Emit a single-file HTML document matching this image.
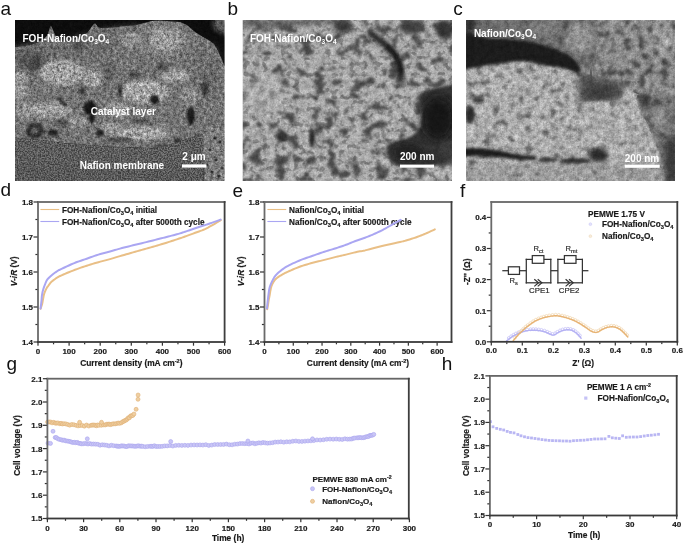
<!DOCTYPE html>
<html><head><meta charset="utf-8"><title>Figure</title>
<style>html,body{margin:0;padding:0;background:#fff;} body{width:685px;height:545px;overflow:hidden;position:relative;font-family:"Liberation Sans", sans-serif;}</style>
</head><body>
<svg width="685" height="545" viewBox="0 0 685 545" style="position:absolute;left:0;top:0;font-family:'Liberation Sans', sans-serif">
<rect width="685" height="545" fill="#fff"/>
<defs>
<filter id="b0_6" x="-50%" y="-50%" width="200%" height="200%"><feGaussianBlur stdDeviation="0.6"/></filter>
<filter id="b1" x="-50%" y="-50%" width="200%" height="200%"><feGaussianBlur stdDeviation="1"/></filter>
<filter id="b1_5" x="-50%" y="-50%" width="200%" height="200%"><feGaussianBlur stdDeviation="1.5"/></filter>
<filter id="b2" x="-50%" y="-50%" width="200%" height="200%"><feGaussianBlur stdDeviation="2"/></filter>
<filter id="b3" x="-50%" y="-50%" width="200%" height="200%"><feGaussianBlur stdDeviation="3"/></filter>
<filter id="b4" x="-50%" y="-50%" width="200%" height="200%"><feGaussianBlur stdDeviation="4"/></filter>
<filter id="b6" x="-50%" y="-50%" width="200%" height="200%"><feGaussianBlur stdDeviation="6"/></filter>
<filter id="texA" x="15" y="20" width="210" height="161" filterUnits="userSpaceOnUse" color-interpolation-filters="sRGB">
<feTurbulence type="fractalNoise" baseFrequency="0.3" numOctaves="3" seed="3" result="n1"/>
<feTurbulence type="fractalNoise" baseFrequency="0.7" numOctaves="2" seed="10" result="n2"/>
<feComposite in="n1" in2="n2" operator="arithmetic" k2="0.6" k3="0.4" result="n"/>
<feColorMatrix in="n" type="matrix" values="2.0 0 0 0 -0.5 2.0 0 0 0 -0.5 2.0 0 0 0 -0.5 0 0 0 0 1" result="g"/>
<feComposite in="SourceGraphic" in2="g" operator="arithmetic" k1="0.85" k2="0.575" k3="0" k4="0"/></filter>
<filter id="texM" x="15" y="120" width="210" height="62" filterUnits="userSpaceOnUse" color-interpolation-filters="sRGB">
<feTurbulence type="fractalNoise" baseFrequency="0.7" numOctaves="2" seed="13" result="n1"/>
<feColorMatrix in="n1" type="matrix" values="2.5 0 0 0 -0.75 2.5 0 0 0 -0.75 2.5 0 0 0 -0.75 0 0 0 0 1" result="g"/>
<feComposite in="SourceGraphic" in2="g" operator="arithmetic" k1="0.7" k2="0.65" k3="0" k4="0"/></filter>
<filter id="texB" x="242" y="20" width="211" height="161" filterUnits="userSpaceOnUse" color-interpolation-filters="sRGB">
<feTurbulence type="fractalNoise" baseFrequency="0.2" numOctaves="3" seed="5" result="n1"/>
<feTurbulence type="fractalNoise" baseFrequency="0.6" numOctaves="2" seed="12" result="n2"/>
<feComposite in="n1" in2="n2" operator="arithmetic" k2="0.6" k3="0.4" result="n"/>
<feColorMatrix in="n" type="matrix" values="1.6 0 0 0 -0.30000000000000004 1.6 0 0 0 -0.30000000000000004 1.6 0 0 0 -0.30000000000000004 0 0 0 0 1" result="g"/>
<feComposite in="SourceGraphic" in2="g" operator="arithmetic" k1="0.45" k2="0.775" k3="0" k4="0"/></filter>
<filter id="texC" x="466" y="20" width="210" height="161" filterUnits="userSpaceOnUse" color-interpolation-filters="sRGB">
<feTurbulence type="fractalNoise" baseFrequency="0.2" numOctaves="3" seed="9" result="n1"/>
<feTurbulence type="fractalNoise" baseFrequency="0.6" numOctaves="2" seed="16" result="n2"/>
<feComposite in="n1" in2="n2" operator="arithmetic" k2="0.6" k3="0.4" result="n"/>
<feColorMatrix in="n" type="matrix" values="1.6 0 0 0 -0.30000000000000004 1.6 0 0 0 -0.30000000000000004 1.6 0 0 0 -0.30000000000000004 0 0 0 0 1" result="g"/>
<feComposite in="SourceGraphic" in2="g" operator="arithmetic" k1="0.55" k2="0.725" k3="0" k4="0"/></filter>
<filter id="poreB" x="242" y="20" width="211" height="161" filterUnits="userSpaceOnUse" color-interpolation-filters="sRGB"><feTurbulence type="fractalNoise" baseFrequency="0.08 0.09" numOctaves="4" seed="11" result="n"/><feColorMatrix in="n" type="matrix" values="0 0 0 0 0 0 0 0 0 0 0 0 0 0 0 -7 0 0 0 3.25" result="a"/><feFlood flood-color="#3a3a3a" result="f"/><feComposite in="f" in2="a" operator="in" result="s"/><feGaussianBlur in="s" stdDeviation="0.9" result="sb"/><feComposite in="sb" in2="SourceGraphic" operator="in"/></filter>
<filter id="poreB2" x="242" y="20" width="211" height="161" filterUnits="userSpaceOnUse" color-interpolation-filters="sRGB"><feTurbulence type="fractalNoise" baseFrequency="0.16 0.18" numOctaves="2" seed="23" result="n"/><feColorMatrix in="n" type="matrix" values="0 0 0 0 0 0 0 0 0 0 0 0 0 0 0 -6 0 0 0 2.8" result="a"/><feFlood flood-color="#505050" result="f"/><feComposite in="f" in2="a" operator="in" result="s"/><feGaussianBlur in="s" stdDeviation="0.6" result="sb"/><feComposite in="sb" in2="SourceGraphic" operator="in"/></filter>
<filter id="poreC" x="466" y="20" width="210" height="161" filterUnits="userSpaceOnUse" color-interpolation-filters="sRGB"><feTurbulence type="fractalNoise" baseFrequency="0.12 0.15" numOctaves="3" seed="4" result="n"/><feColorMatrix in="n" type="matrix" values="0 0 0 0 0 0 0 0 0 0 0 0 0 0 0 -5 0 0 0 2.25" result="a"/><feFlood flood-color="#404040" result="f"/><feComposite in="f" in2="a" operator="in" result="s"/><feGaussianBlur in="s" stdDeviation="0.8" result="sb"/><feComposite in="sb" in2="SourceGraphic" operator="in"/></filter>
<filter id="poreC2" x="466" y="20" width="210" height="161" filterUnits="userSpaceOnUse" color-interpolation-filters="sRGB"><feTurbulence type="fractalNoise" baseFrequency="0.13 0.13" numOctaves="3" seed="17" result="n"/><feColorMatrix in="n" type="matrix" values="0 0 0 0 0 0 0 0 0 0 0 0 0 0 0 -5 0 0 0 2.35" result="a"/><feFlood flood-color="#3a3a3a" result="f"/><feComposite in="f" in2="a" operator="in" result="s"/><feGaussianBlur in="s" stdDeviation="0.9" result="sb"/><feComposite in="sb" in2="SourceGraphic" operator="in"/></filter>
<clipPath id="cA"><rect x="15" y="20" width="209.6" height="161"/></clipPath>
<clipPath id="cB"><rect x="242.7" y="20" width="209.3" height="161"/></clipPath>
<clipPath id="cC"><rect x="466.1" y="20" width="209" height="161"/></clipPath>
</defs>
<g clip-path="url(#cA)">
<g filter="url(#texA)">
<rect x="14" y="19" width="212" height="163" fill="#0d0d0d"/>
<polygon points="14,47.5 26,46 37,43 45,38 48,34 50,27 51,25.5 53,30 57,39 62,41.5 70,42 81,37.6 88,32 93,25 95,23 98,27 104,28.5 108,28 115,27.5 125,26 135,25.5 144,23 152,21 160,20.5 170,21.5 180,22 187,25 195,32 203,37 210,41 214,44 218,51 222,60 226,69 226,190 14,190" fill="#737373" filter="url(#b0_6)"/>
<ellipse cx="226" cy="24" rx="13" ry="10" fill="#575757" filter="url(#b2)"/>
<polygon points="14,48 40,43 60,42 85,36 110,29 140,26 140,40 115,50 95,56 70,58 45,60 14,62" fill="#6a6a6a" filter="url(#b3)"/>
<ellipse cx="34" cy="62" rx="9" ry="10" fill="#444" filter="url(#b2)" transform="rotate(20 34 62)"/>
<ellipse cx="24" cy="60" rx="8" ry="8" fill="#555" filter="url(#b3)"/>
<ellipse cx="78" cy="45" rx="6" ry="4" fill="#4a4a4a" filter="url(#b2)"/>
<ellipse cx="108" cy="72" rx="6" ry="10" fill="#5a5a5a" filter="url(#b3)"/>
<ellipse cx="165" cy="40" rx="20" ry="14" fill="#8e8e8e" filter="url(#b4)"/>
<ellipse cx="205" cy="58" rx="12" ry="12" fill="#6e6e6e" filter="url(#b4)"/>
<ellipse cx="210" cy="80" rx="10" ry="14" fill="#666" filter="url(#b4)"/>
<ellipse cx="62" cy="73" rx="22" ry="13" fill="#a0a0a0" filter="url(#b1_5)"/>
<ellipse cx="93" cy="78" rx="10" ry="9" fill="#9c9c9c" filter="url(#b1_5)"/>
<ellipse cx="20" cy="85" rx="7" ry="14" fill="#959595" filter="url(#b1_5)"/>
<ellipse cx="145" cy="92" rx="24" ry="12" fill="#a2a2a2" filter="url(#b1_5)"/>
<ellipse cx="175" cy="76" rx="14" ry="7" fill="#9a9a9a" filter="url(#b1_5)"/>
<ellipse cx="140" cy="133" rx="30" ry="7" fill="#9e9e9e" filter="url(#b1_5)"/>
<ellipse cx="118" cy="110" rx="12" ry="8" fill="#969696" filter="url(#b1_5)"/>
<ellipse cx="50" cy="110" rx="22" ry="8" fill="#9a9a9a" filter="url(#b1_5)"/>
<ellipse cx="75" cy="122" rx="12" ry="5" fill="#949494" filter="url(#b1_5)"/>
<ellipse cx="165" cy="40" rx="14" ry="10" fill="#9a9a9a" filter="url(#b1_5)"/>
<ellipse cx="130" cy="40" rx="12" ry="8" fill="#8e8e8e" filter="url(#b1_5)"/>
<ellipse cx="190" cy="96" rx="10" ry="8" fill="#8a8a8a" filter="url(#b1_5)"/>
<ellipse cx="25" cy="110" rx="8" ry="10" fill="#909090" filter="url(#b1_5)"/>
<ellipse cx="110" cy="128" rx="10" ry="6" fill="#949494" filter="url(#b1_5)"/>
<path d="M58,98 L67,106" stroke="#2a2a2a" stroke-width="2.5" fill="none" stroke-linecap="round" filter="url(#b1)"/>
<ellipse cx="90" cy="108" rx="6.5" ry="7" fill="#141414" filter="url(#b1)"/>
<ellipse cx="92" cy="118" rx="3" ry="5" fill="#1c1c1c" filter="url(#b1)"/>
<ellipse cx="100" cy="133" rx="4" ry="3.5" fill="#222" filter="url(#b1)"/>
<ellipse cx="154.5" cy="99.5" rx="4.5" ry="4.5" fill="#1a1a1a" filter="url(#b1)"/>
<ellipse cx="191" cy="116" rx="4" ry="9" fill="#1a1a1a" filter="url(#b1)"/>
<ellipse cx="120" cy="91" rx="2" ry="6" fill="#2a2a2a" filter="url(#b1)"/>
<ellipse cx="135" cy="75" rx="6" ry="3.5" fill="#4a4a4a" filter="url(#b1_5)"/>
<ellipse cx="162" cy="67" rx="6" ry="4" fill="#4a4a4a" filter="url(#b1_5)"/>
<ellipse cx="205" cy="89" rx="3" ry="7" fill="#2e2e2e" filter="url(#b1_5)"/>
<ellipse cx="178" cy="141" rx="3" ry="3" fill="#2a2a2a" filter="url(#b1)"/>
<ellipse cx="35" cy="131" rx="9" ry="8" fill="#2a2a2a" filter="url(#b1_5)"/>
<ellipse cx="35" cy="131" rx="4" ry="4" fill="#606060" filter="url(#b1)"/>
<ellipse cx="53" cy="133" rx="6" ry="3.5" fill="#262626" filter="url(#b1)"/>
<ellipse cx="63" cy="123" rx="7" ry="4" fill="#505050" filter="url(#b1_5)"/>
<ellipse cx="82" cy="91" rx="3" ry="3.5" fill="#333" filter="url(#b1)"/>
<ellipse cx="140" cy="121" rx="10" ry="2" fill="#505050" filter="url(#b1)"/>
<ellipse cx="120" cy="140" rx="14" ry="2.5" fill="#4a4a4a" filter="url(#b1)"/>
<ellipse cx="165" cy="146" rx="12" ry="2" fill="#4a4a4a" filter="url(#b1)"/>
<rect x="203.5" y="128" width="22" height="55" fill="#7c7c7c" filter="url(#b0_6)"/>
<ellipse cx="210" cy="150" rx="1.6" ry="1.6" fill="#333" filter="url(#b0_6)"/>
<ellipse cx="216" cy="160" rx="1.6" ry="1.6" fill="#333" filter="url(#b0_6)"/>
<ellipse cx="212" cy="172" rx="1.6" ry="1.6" fill="#333" filter="url(#b0_6)"/>
<ellipse cx="220" cy="142" rx="1.6" ry="1.6" fill="#333" filter="url(#b0_6)"/>
<ellipse cx="207" cy="165" rx="1.6" ry="1.6" fill="#333" filter="url(#b0_6)"/>
<ellipse cx="219" cy="176" rx="1.6" ry="1.6" fill="#333" filter="url(#b0_6)"/>
<ellipse cx="215" cy="138" rx="1.6" ry="1.6" fill="#333" filter="url(#b0_6)"/>
<ellipse cx="222" cy="168" rx="1.6" ry="1.6" fill="#333" filter="url(#b0_6)"/>
</g>
<g filter="url(#texM)">
<polygon points="14,137.5 30,139 45.7,140.6 63,143 76,143.7 90,145 107,146.5 125,147 140,147.5 153,148.3 165,146 180.5,141 190,138 199,135 203,134 203.5,190 14,190" fill="#5b5b5b" filter="url(#b0_6)"/>
<rect x="15" y="165" width="190" height="17" fill="#555" opacity="0.4"/>
</g>
<text x="22.5" y="41.5" font-size="10" font-weight="bold" fill="#fff" opacity="0.995" font-family='"Liberation Sans", sans-serif'>FOH-Nafion/Co<tspan font-size="6.5" baseline-shift="-2.2">3</tspan>O<tspan font-size="6.5" baseline-shift="-2.2">4</tspan></text>
<text x="90.8" y="115.2" font-size="10" font-weight="bold" fill="#fff" opacity="0.995" font-family='"Liberation Sans", sans-serif'>Catalyst layer</text>
<text x="79.7" y="168.9" font-size="10" font-weight="bold" fill="#fff" opacity="0.995" font-family='"Liberation Sans", sans-serif'>Nafion membrane</text>
<text x="182.3" y="160.1" font-size="10" font-weight="bold" fill="#fff" opacity="0.995" font-family='"Liberation Sans", sans-serif'>2 μm</text>
<rect x="182" y="164.4" width="24.5" height="3.2" fill="#fff"/>
</g>
<g clip-path="url(#cB)">
<g filter="url(#texB)">
<rect x="242" y="19" width="212" height="164" fill="#acacac"/>
<rect x="242" y="19" width="212" height="164" fill="#000" filter="url(#poreB)" opacity="0.85"/>
<rect x="242" y="19" width="212" height="164" fill="#000" filter="url(#poreB2)" opacity="0.5"/>
<ellipse cx="265" cy="95" rx="22" ry="20" fill="#b4b4b4" filter="url(#b4)" opacity="0.6"/>
<polygon points="242,19 340,19 330,24 300,27 270,28 242,29" fill="#555" filter="url(#b2)" opacity="0.7"/>
<ellipse cx="343" cy="26" rx="10" ry="7" fill="#3a3a3a" filter="url(#b2)"/>
<ellipse cx="412" cy="27" rx="13" ry="7" fill="#3c3c3c" filter="url(#b2)"/>
<ellipse cx="445" cy="30" rx="9" ry="10" fill="#353535" filter="url(#b2)"/>
<path d="M371,34 C380,40 390,48 396,56 C400,62 401,70 400,80" stroke="#262626" stroke-width="7" fill="none" stroke-linecap="round" filter="url(#b2)"/>
<path d="M388,47 C394,52 399,60 401,72" stroke="#1a1a1a" stroke-width="4" fill="none" stroke-linecap="round" filter="url(#b1)"/>
<ellipse cx="312" cy="138" rx="3" ry="10" fill="#2a2a2a" filter="url(#b1_5)"/>
<ellipse cx="282" cy="137" rx="6" ry="5" fill="#303030" filter="url(#b1_5)"/>
<polygon points="419,94 425,91 435,88 445,86 454,84 454,158 440,165 420,168 397,166 390,161 386.5,154 387.6,145 394,141 405,139 412,136 420,128 422,114 420,100" fill="#303030" filter="url(#b1_5)"/>
<ellipse cx="438" cy="118" rx="16" ry="22" fill="#181818" filter="url(#b4)"/>
<ellipse cx="408" cy="152" rx="14" ry="9" fill="#242424" filter="url(#b2)"/>
<ellipse cx="447" cy="150" rx="7" ry="8" fill="#3c3c3c" filter="url(#b2)"/>
</g>
<text x="249.9" y="41.8" font-size="10" font-weight="bold" fill="#fff" opacity="0.995" font-family='"Liberation Sans", sans-serif'>FOH-Nafion/Co<tspan font-size="6.5" baseline-shift="-2.2">3</tspan>O<tspan font-size="6.5" baseline-shift="-2.2">4</tspan></text>
<text x="400" y="160.1" font-size="10" font-weight="bold" fill="#fff" opacity="0.995" font-family='"Liberation Sans", sans-serif'>200 nm</text>
<rect x="400" y="164.6" width="34" height="3.1" fill="#fff"/>
</g>
<g clip-path="url(#cC)">
<g filter="url(#texC)">
<rect x="465" y="19" width="212" height="164" fill="#b0b0b0"/>
<rect x="465" y="19" width="212" height="164" fill="#000" filter="url(#poreC)" opacity="0.75"/>
<polygon points="594,18 678,18 678,97 640,95 625,88 594,80" fill="#909090" filter="url(#b2)"/>
<polygon points="594,18 678,18 678,97 640,95 625,88 594,80" fill="#000" filter="url(#poreC2)" opacity="0.6"/>
<ellipse cx="664" cy="40" rx="10" ry="14" fill="#a6a6a6" filter="url(#b3)"/>
<ellipse cx="612" cy="85" rx="12" ry="5" fill="#606060" filter="url(#b3)"/>
<path d="M591,20 C592,40 590,60 591,82" stroke="#444" stroke-width="5" fill="none" stroke-linecap="round" filter="url(#b2)"/>
<polygon points="464,18 596,18 596,72 580,66 574,58 566,52 556,49 546,46 535,42 520,40 505,38 490,38 475,34 464,30" fill="#6e6e6e" filter="url(#b1_5)"/>
<polygon points="464,18 676,18 676,98 640,95 625,88 596,80 580,66 574,58 566,52 556,49 546,46 535,42 520,40 505,38 490,38 475,34 464,30" fill="#000" filter="url(#poreC2)" opacity="0.6"/>
<ellipse cx="580" cy="38" rx="14" ry="16" fill="#929292" filter="url(#b3)"/>
<ellipse cx="545" cy="28" rx="14" ry="8" fill="#7e7e7e" filter="url(#b3)"/>
<ellipse cx="470" cy="24" rx="6" ry="8" fill="#2a2a2a" filter="url(#b2)"/>
<path d="M464,30 C470,33 480,36 490,38 C505,38 520,39 535,42 C548,46 560,50 568,54 C574,58 578,62 581,68 L580,76 C574,71 566,68 556,67 C546,66 538,64 530,62 C520,60 510,62 500,64 C488,65 476,67 464,70 Z" fill="#1a1a1a" filter="url(#b1_5)"/>
<polygon points="578,70 600,78 622,86 625,100 600,103 579,103" fill="#4e4e4e" filter="url(#b3)"/>
<ellipse cx="600" cy="92" rx="14" ry="6" fill="#3a3a3a" filter="url(#b3)"/>
<polygon points="578,103 600,102 618,101 623,98 625,92 631,91 634,95 636,103 640,110 647,125 653,135 656,145 662,158 662,168 640,170 600,168 578,165" fill="#b0b0b0" filter="url(#b1)"/>
<polygon points="578,103 600,102 618,101 623,98 625,92 631,91 634,95 636,103 640,110 647,125 653,135 656,145 662,158 662,168 640,170 600,168 578,165" fill="#000" filter="url(#poreC)" opacity="0.5"/>
<polygon points="637,95 678,95 678,184 666,184 662,160 656,145 648,125 640,110" fill="#757575" filter="url(#b1_5)"/>
<polygon points="637,95 678,95 678,184 666,184 662,160 656,145 648,125 640,110" fill="#000" filter="url(#poreC2)" opacity="0.7"/>
<ellipse cx="660" cy="118" rx="8" ry="10" fill="#929292" filter="url(#b3)"/>
<polygon points="665,140 678,135 678,184 665,184" fill="#383838" filter="url(#b3)"/>
<ellipse cx="645" cy="100" rx="6" ry="7" fill="#3c3c3c" filter="url(#b2)"/>
<ellipse cx="470" cy="115" rx="5" ry="8" fill="#2c2c2c" filter="url(#b1_5)"/>
<ellipse cx="478" cy="100" rx="6" ry="3" fill="#3a3a3a" filter="url(#b1_5)"/>
<polygon points="464,148 480,148 496,150 506,152 520,155 536,156 536,160 520,160 506,158 490,157 476,156 464,157" fill="#1c1c1c" filter="url(#b1_5)"/>
<ellipse cx="575" cy="161" rx="16" ry="3" fill="#2a2a2a" filter="url(#b1_5)"/>
<ellipse cx="598" cy="155" rx="10" ry="7" fill="#2a2a2a" filter="url(#b2)"/>
<ellipse cx="548" cy="160" rx="10" ry="2.5" fill="#333" filter="url(#b1_5)"/>
<rect x="464" y="163" width="200" height="21" fill="#909090" filter="url(#b2)" opacity="0.5"/>
</g>
<text x="473.9" y="37" font-size="10" font-weight="bold" fill="#fff" opacity="0.995" font-family='"Liberation Sans", sans-serif'>Nafion/Co<tspan font-size="6.5" baseline-shift="-2.2">3</tspan>O<tspan font-size="6.5" baseline-shift="-2.2">4</tspan></text>
<text x="624.8" y="161.6" font-size="10" font-weight="bold" fill="#fff" opacity="0.995" font-family='"Liberation Sans", sans-serif'>200 nm</text>
<rect x="624.8" y="164.7" width="34.9" height="3.1" fill="#fff"/>
</g>
<text x="0.6" y="15.2" font-size="19" font-weight="normal" text-anchor="start" fill="#111" opacity="0.995" stroke="#111" stroke-width="0" >a</text>
<text x="227.4" y="14.9" font-size="19" font-weight="normal" text-anchor="start" fill="#111" opacity="0.995" stroke="#111" stroke-width="0" >b</text>
<text x="453.3" y="14.9" font-size="19" font-weight="normal" text-anchor="start" fill="#111" opacity="0.995" stroke="#111" stroke-width="0" >c</text>
<text x="0.6" y="196" font-size="19" font-weight="normal" text-anchor="start" fill="#111" opacity="0.995" stroke="#111" stroke-width="0" >d</text>
<text x="232.4" y="196.7" font-size="19" font-weight="normal" text-anchor="start" fill="#111" opacity="0.995" stroke="#111" stroke-width="0" >e</text>
<text x="460" y="196.7" font-size="19" font-weight="normal" text-anchor="start" fill="#111" opacity="0.995" stroke="#111" stroke-width="0" >f</text>
<text x="6.4" y="369.5" font-size="19" font-weight="normal" text-anchor="start" fill="#111" opacity="0.995" stroke="#111" stroke-width="0" >g</text>
<text x="441.8" y="369.6" font-size="19" font-weight="normal" text-anchor="start" fill="#111" opacity="0.995" stroke="#111" stroke-width="0" >h</text>
<rect x="37.1" y="201.1" width="188.4" height="1.8" fill="#666"/>
<rect x="37.1" y="201.1" width="1.8" height="141.8" fill="#6a6a6a"/>
<rect x="223.7" y="201.1" width="1.8" height="141.8" fill="#3e3e3e"/>
<rect x="37.1" y="341.1" width="188.4" height="1.8" fill="#3a3a3a"/>
<rect x="33.5" y="341.4" width="4" height="1.2" fill="#333"/>
<text x="33" y="344.9" font-size="8" font-weight="bold" text-anchor="end" fill="#1a1a1a" opacity="0.995" stroke="#1a1a1a" stroke-width="0.18" >1.4</text>
<rect x="33.5" y="306.4" width="4" height="1.2" fill="#333"/>
<text x="33" y="309.9" font-size="8" font-weight="bold" text-anchor="end" fill="#1a1a1a" opacity="0.995" stroke="#1a1a1a" stroke-width="0.18" >1.5</text>
<rect x="33.5" y="271.4" width="4" height="1.2" fill="#333"/>
<text x="33" y="274.9" font-size="8" font-weight="bold" text-anchor="end" fill="#1a1a1a" opacity="0.995" stroke="#1a1a1a" stroke-width="0.18" >1.6</text>
<rect x="33.5" y="236.4" width="4" height="1.2" fill="#333"/>
<text x="33" y="239.9" font-size="8" font-weight="bold" text-anchor="end" fill="#1a1a1a" opacity="0.995" stroke="#1a1a1a" stroke-width="0.18" >1.7</text>
<rect x="33.5" y="201.4" width="4" height="1.2" fill="#333"/>
<text x="33" y="204.9" font-size="8" font-weight="bold" text-anchor="end" fill="#1a1a1a" opacity="0.995" stroke="#1a1a1a" stroke-width="0.18" >1.8</text>
<rect x="35.4" y="323.9" width="2" height="1.2" fill="#333"/>
<rect x="35.4" y="288.9" width="2" height="1.2" fill="#333"/>
<rect x="35.4" y="253.9" width="2" height="1.2" fill="#333"/>
<rect x="35.4" y="218.9" width="2" height="1.2" fill="#333"/>
<rect x="37.4" y="342.5" width="1.2" height="3.2" fill="#333"/>
<text x="38" y="353.5" font-size="8" font-weight="bold" text-anchor="middle" fill="#1a1a1a" opacity="0.995" stroke="#1a1a1a" stroke-width="0.18" >0</text>
<rect x="68.5" y="342.5" width="1.2" height="3.2" fill="#333"/>
<text x="69.1" y="353.5" font-size="8" font-weight="bold" text-anchor="middle" fill="#1a1a1a" opacity="0.995" stroke="#1a1a1a" stroke-width="0.18" >100</text>
<rect x="99.6" y="342.5" width="1.2" height="3.2" fill="#333"/>
<text x="100.2" y="353.5" font-size="8" font-weight="bold" text-anchor="middle" fill="#1a1a1a" opacity="0.995" stroke="#1a1a1a" stroke-width="0.18" >200</text>
<rect x="130.7" y="342.5" width="1.2" height="3.2" fill="#333"/>
<text x="131.3" y="353.5" font-size="8" font-weight="bold" text-anchor="middle" fill="#1a1a1a" opacity="0.995" stroke="#1a1a1a" stroke-width="0.18" >300</text>
<rect x="161.8" y="342.5" width="1.2" height="3.2" fill="#333"/>
<text x="162.4" y="353.5" font-size="8" font-weight="bold" text-anchor="middle" fill="#1a1a1a" opacity="0.995" stroke="#1a1a1a" stroke-width="0.18" >400</text>
<rect x="192.9" y="342.5" width="1.2" height="3.2" fill="#333"/>
<text x="193.5" y="353.5" font-size="8" font-weight="bold" text-anchor="middle" fill="#1a1a1a" opacity="0.995" stroke="#1a1a1a" stroke-width="0.18" >500</text>
<rect x="224" y="342.5" width="1.2" height="3.2" fill="#333"/>
<text x="224.6" y="353.5" font-size="8" font-weight="bold" text-anchor="middle" fill="#1a1a1a" opacity="0.995" stroke="#1a1a1a" stroke-width="0.18" >600</text>
<rect x="52.95" y="342.5" width="1.2" height="1.8" fill="#333"/>
<rect x="84.05" y="342.5" width="1.2" height="1.8" fill="#333"/>
<rect x="115.15" y="342.5" width="1.2" height="1.8" fill="#333"/>
<rect x="146.25" y="342.5" width="1.2" height="1.8" fill="#333"/>
<rect x="177.35" y="342.5" width="1.2" height="1.8" fill="#333"/>
<rect x="208.45" y="342.5" width="1.2" height="1.8" fill="#333"/>
<line x1="40.4" y1="209.5" x2="59.2" y2="209.5" stroke="#e9bf86" stroke-width="1.1"/>
<line x1="40.4" y1="221.5" x2="59.2" y2="221.5" stroke="#aaa6f2" stroke-width="1.1"/>
<text x="62" y="212.6" font-size="8.2" font-weight="bold" text-anchor="start" fill="#1a1a1a" opacity="0.995" stroke="#1a1a1a" stroke-width="0.18" >FOH-Nafion/Co<tspan font-size="5.74" baseline-shift="-1.97">3</tspan>O<tspan font-size="5.74" baseline-shift="-1.97">4</tspan> initial</text>
<text x="62" y="224.6" font-size="8.2" font-weight="bold" text-anchor="start" fill="#1a1a1a" opacity="0.995" stroke="#1a1a1a" stroke-width="0.18" >FOH-Nafion/Co<tspan font-size="5.74" baseline-shift="-1.97">3</tspan>O<tspan font-size="5.74" baseline-shift="-1.97">4</tspan> after 5000th cycle</text>
<polyline points="40.6,308.8 40.7,308.49 40.84,308.07 41,307.57 41.17,307.03 41.35,306.49 41.5,306 41.64,305.57 41.77,305.18 41.9,304.79 42.03,304.37 42.16,303.88 42.3,303.3 42.44,302.6 42.59,301.8 42.73,300.94 42.88,300.04 43.04,299.15 43.2,298.3 43.36,297.48 43.51,296.66 43.67,295.85 43.84,295.04 44.05,294.22 44.3,293.4 44.61,292.55 44.96,291.66 45.34,290.77 45.74,289.91 46.13,289.11 46.5,288.4 46.83,287.81 47.14,287.31 47.44,286.88 47.75,286.46 48.1,286.02 48.5,285.5 48.93,284.91 49.38,284.29 49.86,283.63 50.4,282.96 51,282.28 51.7,281.6 52.52,280.9 53.44,280.17 54.43,279.44 55.46,278.71 56.5,278.03 57.5,277.4 58.41,276.86 59.25,276.4 60.09,275.98 61.01,275.55 62.09,275.07 63.4,274.5 65,273.81 66.84,273.04 68.84,272.23 70.91,271.39 72.99,270.57 75,269.8 76.94,269.07 78.89,268.37 80.84,267.68 82.8,267 84.75,266.34 86.7,265.7 88.65,265.08 90.6,264.47 92.56,263.89 94.51,263.31 96.46,262.75 98.4,262.2 100.36,261.66 102.33,261.13 104.31,260.62 106.26,260.11 108.16,259.61 110,259.1 111.72,258.6 113.34,258.12 114.91,257.64 116.5,257.15 118.18,256.64 120,256.1 121.99,255.53 124.1,254.92 126.29,254.3 128.53,253.67 130.78,253.03 133,252.4 135.2,251.77 137.42,251.14 139.64,250.5 141.87,249.86 144.09,249.23 146.3,248.6 148.52,247.97 150.77,247.34 153.02,246.72 155.23,246.1 157.36,245.49 159.4,244.9 161.32,244.33 163.14,243.77 164.89,243.22 166.6,242.69 168.3,242.15 170,241.6 171.73,241.04 173.47,240.48 175.19,239.91 176.87,239.36 178.48,238.82 180,238.3 181.38,237.82 182.65,237.37 183.84,236.94 185.02,236.51 186.22,236.07 187.5,235.6 188.85,235.11 190.24,234.61 191.66,234.09 193.09,233.57 194.54,233.04 196,232.5 197.47,231.97 198.97,231.44 200.48,230.91 202,230.35 203.51,229.75 205,229.1 206.5,228.37 208.01,227.58 209.53,226.74 211.01,225.9 212.44,225.08 213.8,224.3 215.15,223.53 216.53,222.73 217.85,221.95 219.05,221.24 220.06,220.64 220.8,220.2" fill="none" stroke="#e9bf86" stroke-width="2.0" stroke-linejoin="round" stroke-linecap="round" />
<polyline points="40.5,308.5 40.55,308.13 40.63,307.63 40.72,307.03 40.81,306.37 40.91,305.68 41,305 41.08,304.32 41.17,303.61 41.25,302.88 41.33,302.11 41.42,301.32 41.5,300.5 41.58,299.64 41.64,298.74 41.71,297.81 41.78,296.87 41.88,295.93 42,295 42.15,294.08 42.32,293.17 42.51,292.25 42.71,291.33 42.95,290.42 43.2,289.5 43.49,288.57 43.81,287.62 44.15,286.68 44.5,285.74 44.86,284.85 45.2,284 45.5,283.22 45.77,282.49 46.04,281.79 46.35,281.1 46.72,280.41 47.2,279.7 47.79,278.96 48.47,278.2 49.21,277.44 50.01,276.69 50.85,275.93 51.7,275.2 52.59,274.47 53.53,273.73 54.51,273.01 55.51,272.3 56.51,271.63 57.5,271 58.41,270.46 59.25,269.99 60.09,269.56 61.01,269.12 62.09,268.61 63.4,268 65,267.25 66.84,266.39 68.84,265.47 70.91,264.53 72.99,263.63 75,262.8 76.94,262.05 78.89,261.35 80.84,260.68 82.8,260.03 84.75,259.37 86.7,258.7 88.65,258.01 90.6,257.3 92.56,256.59 94.51,255.89 96.46,255.23 98.4,254.6 100.36,254.02 102.33,253.49 104.31,252.97 106.26,252.48 108.16,251.99 110,251.5 111.72,251.01 113.34,250.53 114.91,250.06 116.5,249.59 118.18,249.1 120,248.6 121.99,248.07 124.1,247.53 126.29,246.97 128.53,246.41 130.78,245.85 133,245.3 135.2,244.76 137.42,244.23 139.64,243.7 141.87,243.17 144.09,242.64 146.3,242.1 148.52,241.55 150.77,240.99 153.02,240.42 155.23,239.86 157.36,239.32 159.4,238.8 161.32,238.32 163.14,237.86 164.89,237.41 166.6,236.98 168.3,236.54 170,236.1 171.73,235.65 173.47,235.19 175.19,234.74 176.87,234.29 178.48,233.84 180,233.4 181.38,232.98 182.65,232.57 183.84,232.16 185.02,231.76 186.22,231.34 187.5,230.9 188.85,230.44 190.24,229.96 191.66,229.48 193.09,228.98 194.54,228.49 196,228 197.48,227.51 199,227.03 200.53,226.54 202.06,226.05 203.55,225.57 205,225.1 206.4,224.64 207.76,224.19 209.09,223.74 210.4,223.3 211.7,222.85 213,222.4 214.38,221.91 215.84,221.37 217.3,220.83 218.64,220.33 219.78,219.91 220.6,219.6" fill="none" stroke="#aaa6f2" stroke-width="2.0" stroke-linejoin="round" stroke-linecap="round" />
<text x="131.3" y="365.6" font-size="8.4" font-weight="bold" text-anchor="middle" fill="#1a1a1a" opacity="0.995" stroke="#1a1a1a" stroke-width="0.18" >Current density (mA cm<tspan font-size="5.46" baseline-shift="3.19">-2</tspan>)</text>
<text x="17.4" y="271.3" font-size="8.3" font-weight="bold" text-anchor="middle" fill="#1a1a1a" opacity="0.995" stroke="#1a1a1a" stroke-width="0.18" transform="rotate(-90 17.4 271.3)"><tspan font-style="italic">V-iR</tspan> (V)</text>
<rect x="263.6" y="201.1" width="188.8" height="1.8" fill="#666"/>
<rect x="263.6" y="201.1" width="1.8" height="141.8" fill="#6a6a6a"/>
<rect x="450.6" y="201.1" width="1.8" height="141.8" fill="#3e3e3e"/>
<rect x="263.6" y="341.1" width="188.8" height="1.8" fill="#3a3a3a"/>
<rect x="260" y="341.4" width="4" height="1.2" fill="#333"/>
<text x="259.5" y="344.9" font-size="8" font-weight="bold" text-anchor="end" fill="#1a1a1a" opacity="0.995" stroke="#1a1a1a" stroke-width="0.18" >1.4</text>
<rect x="260" y="306.4" width="4" height="1.2" fill="#333"/>
<text x="259.5" y="309.9" font-size="8" font-weight="bold" text-anchor="end" fill="#1a1a1a" opacity="0.995" stroke="#1a1a1a" stroke-width="0.18" >1.5</text>
<rect x="260" y="271.4" width="4" height="1.2" fill="#333"/>
<text x="259.5" y="274.9" font-size="8" font-weight="bold" text-anchor="end" fill="#1a1a1a" opacity="0.995" stroke="#1a1a1a" stroke-width="0.18" >1.6</text>
<rect x="260" y="236.4" width="4" height="1.2" fill="#333"/>
<text x="259.5" y="239.9" font-size="8" font-weight="bold" text-anchor="end" fill="#1a1a1a" opacity="0.995" stroke="#1a1a1a" stroke-width="0.18" >1.7</text>
<rect x="260" y="201.4" width="4" height="1.2" fill="#333"/>
<text x="259.5" y="204.9" font-size="8" font-weight="bold" text-anchor="end" fill="#1a1a1a" opacity="0.995" stroke="#1a1a1a" stroke-width="0.18" >1.8</text>
<rect x="261.9" y="323.9" width="2" height="1.2" fill="#333"/>
<rect x="261.9" y="288.9" width="2" height="1.2" fill="#333"/>
<rect x="261.9" y="253.9" width="2" height="1.2" fill="#333"/>
<rect x="261.9" y="218.9" width="2" height="1.2" fill="#333"/>
<rect x="263.9" y="342.5" width="1.2" height="3.2" fill="#333"/>
<text x="264.5" y="353.5" font-size="8" font-weight="bold" text-anchor="middle" fill="#1a1a1a" opacity="0.995" stroke="#1a1a1a" stroke-width="0.18" >0</text>
<rect x="292.67" y="342.5" width="1.2" height="3.2" fill="#333"/>
<text x="293.27" y="353.5" font-size="8" font-weight="bold" text-anchor="middle" fill="#1a1a1a" opacity="0.995" stroke="#1a1a1a" stroke-width="0.18" >100</text>
<rect x="321.44" y="342.5" width="1.2" height="3.2" fill="#333"/>
<text x="322.04" y="353.5" font-size="8" font-weight="bold" text-anchor="middle" fill="#1a1a1a" opacity="0.995" stroke="#1a1a1a" stroke-width="0.18" >200</text>
<rect x="350.21" y="342.5" width="1.2" height="3.2" fill="#333"/>
<text x="350.81" y="353.5" font-size="8" font-weight="bold" text-anchor="middle" fill="#1a1a1a" opacity="0.995" stroke="#1a1a1a" stroke-width="0.18" >300</text>
<rect x="378.98" y="342.5" width="1.2" height="3.2" fill="#333"/>
<text x="379.58" y="353.5" font-size="8" font-weight="bold" text-anchor="middle" fill="#1a1a1a" opacity="0.995" stroke="#1a1a1a" stroke-width="0.18" >400</text>
<rect x="407.75" y="342.5" width="1.2" height="3.2" fill="#333"/>
<text x="408.35" y="353.5" font-size="8" font-weight="bold" text-anchor="middle" fill="#1a1a1a" opacity="0.995" stroke="#1a1a1a" stroke-width="0.18" >500</text>
<rect x="436.52" y="342.5" width="1.2" height="3.2" fill="#333"/>
<text x="437.12" y="353.5" font-size="8" font-weight="bold" text-anchor="middle" fill="#1a1a1a" opacity="0.995" stroke="#1a1a1a" stroke-width="0.18" >600</text>
<rect x="278.28" y="342.5" width="1.2" height="1.8" fill="#333"/>
<rect x="307.05" y="342.5" width="1.2" height="1.8" fill="#333"/>
<rect x="335.82" y="342.5" width="1.2" height="1.8" fill="#333"/>
<rect x="364.59" y="342.5" width="1.2" height="1.8" fill="#333"/>
<rect x="393.37" y="342.5" width="1.2" height="1.8" fill="#333"/>
<rect x="422.13" y="342.5" width="1.2" height="1.8" fill="#333"/>
<line x1="267.4" y1="209.5" x2="286.2" y2="209.5" stroke="#e9bf86" stroke-width="1.1"/>
<line x1="267.4" y1="221.5" x2="286.2" y2="221.5" stroke="#aaa6f2" stroke-width="1.1"/>
<text x="289" y="212.6" font-size="8.2" font-weight="bold" text-anchor="start" fill="#1a1a1a" opacity="0.995" stroke="#1a1a1a" stroke-width="0.18" >Nafion/Co<tspan font-size="5.74" baseline-shift="-1.97">3</tspan>O<tspan font-size="5.74" baseline-shift="-1.97">4</tspan> initial</text>
<text x="289" y="224.6" font-size="8.2" font-weight="bold" text-anchor="start" fill="#1a1a1a" opacity="0.995" stroke="#1a1a1a" stroke-width="0.18" >Nafion/Co<tspan font-size="5.74" baseline-shift="-1.97">3</tspan>O<tspan font-size="5.74" baseline-shift="-1.97">4</tspan> after 5000th cycle</text>
<polyline points="267.2,309.2 267.29,308.75 267.41,308.14 267.56,307.41 267.71,306.61 267.86,305.79 268,305 268.12,304.2 268.24,303.36 268.35,302.49 268.46,301.62 268.58,300.78 268.7,300 268.82,299.34 268.92,298.79 269.03,298.27 269.16,297.69 269.31,296.96 269.5,296 269.73,294.72 269.99,293.16 270.27,291.46 270.58,289.74 270.92,288.11 271.3,286.7 271.71,285.5 272.16,284.42 272.64,283.44 273.15,282.53 273.67,281.69 274.2,280.9 274.72,280.18 275.24,279.56 275.77,279.01 276.34,278.48 276.98,277.96 277.7,277.4 278.53,276.81 279.46,276.21 280.45,275.61 281.47,275.02 282.5,274.45 283.5,273.9 284.41,273.4 285.25,272.96 286.09,272.52 287.01,272.08 288.09,271.58 289.4,271 291,270.31 292.84,269.52 294.84,268.69 296.91,267.84 298.99,267.03 301,266.3 302.94,265.64 304.89,265.02 306.84,264.44 308.8,263.88 310.75,263.33 312.7,262.8 314.65,262.28 316.6,261.79 318.56,261.32 320.51,260.85 322.46,260.38 324.4,259.9 326.36,259.4 328.33,258.88 330.31,258.36 332.26,257.85 334.16,257.36 336,256.9 337.74,256.48 339.4,256.1 341.01,255.74 342.62,255.38 344.27,255 346,254.6 347.86,254.15 349.84,253.65 351.85,253.14 353.83,252.65 355.7,252.19 357.4,251.8 358.79,251.52 359.9,251.33 360.91,251.19 361.99,251.02 363.29,250.78 365,250.4 367.15,249.86 369.6,249.21 372.29,248.48 375.13,247.7 378.06,246.93 381,246.2 384.14,245.47 387.59,244.7 391.12,243.93 394.52,243.2 397.55,242.54 400,242 401.69,241.62 402.76,241.38 403.46,241.22 404.07,241.06 404.83,240.85 406,240.5 407.63,240.01 409.53,239.43 411.59,238.79 413.69,238.12 415.73,237.45 417.6,236.8 419.31,236.17 420.96,235.53 422.54,234.89 424.07,234.26 425.55,233.62 427,233 428.48,232.35 430.01,231.65 431.49,230.96 432.84,230.33 433.97,229.79 434.8,229.4" fill="none" stroke="#e9bf86" stroke-width="2.0" stroke-linejoin="round" stroke-linecap="round" />
<polyline points="267,308.5 267.05,307.92 267.12,307.13 267.2,306.19 267.29,305.15 267.39,304.07 267.5,303 267.61,301.92 267.74,300.78 267.87,299.59 268.01,298.39 268.15,297.18 268.3,296 268.45,294.81 268.6,293.58 268.76,292.35 268.93,291.16 269.11,290.03 269.3,289 269.49,288.12 269.66,287.38 269.84,286.7 270.06,286.02 270.34,285.28 270.7,284.4 271.16,283.34 271.71,282.14 272.32,280.87 272.96,279.61 273.59,278.43 274.2,277.4 274.76,276.56 275.28,275.84 275.81,275.21 276.36,274.6 276.98,273.98 277.7,273.3 278.53,272.54 279.46,271.73 280.45,270.91 281.47,270.1 282.5,269.32 283.5,268.6 284.41,267.97 285.25,267.41 286.09,266.88 287.01,266.35 288.09,265.77 289.4,265.1 291,264.32 292.84,263.45 294.84,262.54 296.91,261.61 298.99,260.72 301,259.9 302.94,259.15 304.89,258.45 306.84,257.78 308.8,257.13 310.75,256.47 312.7,255.8 314.65,255.11 316.6,254.41 318.56,253.71 320.51,253.02 322.46,252.35 324.4,251.7 326.36,251.08 328.33,250.49 330.31,249.91 332.26,249.34 334.16,248.77 336,248.2 337.77,247.63 339.5,247.06 341.17,246.5 342.81,245.94 344.42,245.37 346,244.8 347.54,244.22 349.03,243.62 350.48,243.03 351.92,242.43 353.35,241.86 354.8,241.3 356.25,240.78 357.7,240.28 359.15,239.8 360.6,239.32 362.05,238.82 363.5,238.3 364.96,237.75 366.43,237.19 367.9,236.61 369.37,236.02 370.84,235.42 372.3,234.8 373.75,234.17 375.2,233.53 376.65,232.88 378.1,232.21 379.55,231.52 381,230.8 382.5,230.03 384.06,229.19 385.62,228.34 387.13,227.5 388.54,226.71 389.8,226 390.87,225.4 391.78,224.87 392.59,224.39 393.36,223.94 394.15,223.48 395,223 395.99,222.45 397.07,221.86 398.18,221.26 399.2,220.71 400.07,220.24 400.7,219.9" fill="none" stroke="#aaa6f2" stroke-width="2.0" stroke-linejoin="round" stroke-linecap="round" />
<text x="358" y="365.6" font-size="8.4" font-weight="bold" text-anchor="middle" fill="#1a1a1a" opacity="0.995" stroke="#1a1a1a" stroke-width="0.18" >Current density (mA cm<tspan font-size="5.46" baseline-shift="3.19">-2</tspan>)</text>
<text x="244.4" y="271.3" font-size="8.3" font-weight="bold" text-anchor="middle" fill="#1a1a1a" opacity="0.995" stroke="#1a1a1a" stroke-width="0.18" transform="rotate(-90 244.4 271.3)"><tspan font-style="italic">V-iR</tspan> (V)</text>
<circle cx="508.89" cy="338.05" r="1.5" fill="none" stroke="#cdcaf8" stroke-width="0.9"/>
<circle cx="511.11" cy="336.36" r="1.5" fill="none" stroke="#cdcaf8" stroke-width="0.9"/>
<circle cx="513.59" cy="334.83" r="1.5" fill="none" stroke="#cdcaf8" stroke-width="0.9"/>
<circle cx="515.96" cy="333.56" r="1.5" fill="none" stroke="#cdcaf8" stroke-width="0.9"/>
<circle cx="518.63" cy="332.28" r="1.5" fill="none" stroke="#cdcaf8" stroke-width="0.9"/>
<circle cx="521.29" cy="331.22" r="1.5" fill="none" stroke="#cdcaf8" stroke-width="0.9"/>
<circle cx="524.05" cy="330.31" r="1.5" fill="none" stroke="#cdcaf8" stroke-width="0.9"/>
<circle cx="527.1" cy="329.67" r="1.5" fill="none" stroke="#cdcaf8" stroke-width="0.9"/>
<circle cx="530.54" cy="329.28" r="1.5" fill="none" stroke="#cdcaf8" stroke-width="0.9"/>
<circle cx="533.23" cy="329.17" r="1.5" fill="none" stroke="#cdcaf8" stroke-width="0.9"/>
<circle cx="535.89" cy="329.25" r="1.5" fill="none" stroke="#cdcaf8" stroke-width="0.9"/>
<circle cx="538.69" cy="329.54" r="1.5" fill="none" stroke="#cdcaf8" stroke-width="0.9"/>
<circle cx="541.42" cy="329.98" r="1.5" fill="none" stroke="#cdcaf8" stroke-width="0.9"/>
<circle cx="544.47" cy="330.69" r="1.5" fill="none" stroke="#cdcaf8" stroke-width="0.9"/>
<circle cx="547.22" cy="331.84" r="1.5" fill="none" stroke="#cdcaf8" stroke-width="0.9"/>
<circle cx="549.83" cy="333.04" r="1.5" fill="none" stroke="#cdcaf8" stroke-width="0.9"/>
<circle cx="552.5" cy="334" r="1.5" fill="none" stroke="#cdcaf8" stroke-width="0.9"/>
<circle cx="555.12" cy="333.4" r="1.5" fill="none" stroke="#cdcaf8" stroke-width="0.9"/>
<circle cx="557.41" cy="331.92" r="1.5" fill="none" stroke="#cdcaf8" stroke-width="0.9"/>
<circle cx="560.09" cy="330.48" r="1.5" fill="none" stroke="#cdcaf8" stroke-width="0.9"/>
<circle cx="562.67" cy="329.52" r="1.5" fill="none" stroke="#cdcaf8" stroke-width="0.9"/>
<circle cx="565.29" cy="328.96" r="1.5" fill="none" stroke="#cdcaf8" stroke-width="0.9"/>
<circle cx="567.94" cy="328.8" r="1.5" fill="none" stroke="#cdcaf8" stroke-width="0.9"/>
<circle cx="570.58" cy="329.04" r="1.5" fill="none" stroke="#cdcaf8" stroke-width="0.9"/>
<circle cx="573.25" cy="330" r="1.5" fill="none" stroke="#cdcaf8" stroke-width="0.9"/>
<circle cx="575.48" cy="331.39" r="1.5" fill="none" stroke="#cdcaf8" stroke-width="0.9"/>
<circle cx="577.87" cy="333.42" r="1.5" fill="none" stroke="#cdcaf8" stroke-width="0.9"/>
<circle cx="579.8" cy="335.5" r="1.5" fill="none" stroke="#cdcaf8" stroke-width="0.9"/>
<circle cx="515.03" cy="337.52" r="1.5" fill="none" stroke="#f3dcbc" stroke-width="0.9"/>
<circle cx="517.04" cy="335.11" r="1.5" fill="none" stroke="#f3dcbc" stroke-width="0.9"/>
<circle cx="519.26" cy="332.79" r="1.5" fill="none" stroke="#f3dcbc" stroke-width="0.9"/>
<circle cx="521.46" cy="330.71" r="1.5" fill="none" stroke="#f3dcbc" stroke-width="0.9"/>
<circle cx="523.45" cy="328.78" r="1.5" fill="none" stroke="#f3dcbc" stroke-width="0.9"/>
<circle cx="525.69" cy="326.78" r="1.5" fill="none" stroke="#f3dcbc" stroke-width="0.9"/>
<circle cx="527.76" cy="325.17" r="1.5" fill="none" stroke="#f3dcbc" stroke-width="0.9"/>
<circle cx="530.37" cy="323.22" r="1.5" fill="none" stroke="#f3dcbc" stroke-width="0.9"/>
<circle cx="533.18" cy="321.29" r="1.5" fill="none" stroke="#f3dcbc" stroke-width="0.9"/>
<circle cx="535.88" cy="319.74" r="1.5" fill="none" stroke="#f3dcbc" stroke-width="0.9"/>
<circle cx="538.52" cy="318.53" r="1.5" fill="none" stroke="#f3dcbc" stroke-width="0.9"/>
<circle cx="541.16" cy="317.54" r="1.5" fill="none" stroke="#f3dcbc" stroke-width="0.9"/>
<circle cx="543.8" cy="316.7" r="1.5" fill="none" stroke="#f3dcbc" stroke-width="0.9"/>
<circle cx="546.49" cy="316" r="1.5" fill="none" stroke="#f3dcbc" stroke-width="0.9"/>
<circle cx="549.2" cy="315.47" r="1.5" fill="none" stroke="#f3dcbc" stroke-width="0.9"/>
<circle cx="552.5" cy="315" r="1.5" fill="none" stroke="#f3dcbc" stroke-width="0.9"/>
<circle cx="555.65" cy="314.76" r="1.5" fill="none" stroke="#f3dcbc" stroke-width="0.9"/>
<circle cx="558.8" cy="315" r="1.5" fill="none" stroke="#f3dcbc" stroke-width="0.9"/>
<circle cx="562.1" cy="315.62" r="1.5" fill="none" stroke="#f3dcbc" stroke-width="0.9"/>
<circle cx="564.81" cy="316.3" r="1.5" fill="none" stroke="#f3dcbc" stroke-width="0.9"/>
<circle cx="567.5" cy="317.1" r="1.5" fill="none" stroke="#f3dcbc" stroke-width="0.9"/>
<circle cx="570.14" cy="317.99" r="1.5" fill="none" stroke="#f3dcbc" stroke-width="0.9"/>
<circle cx="572.78" cy="319" r="1.5" fill="none" stroke="#f3dcbc" stroke-width="0.9"/>
<circle cx="575.42" cy="320.17" r="1.5" fill="none" stroke="#f3dcbc" stroke-width="0.9"/>
<circle cx="578.09" cy="321.56" r="1.5" fill="none" stroke="#f3dcbc" stroke-width="0.9"/>
<circle cx="580.81" cy="323.21" r="1.5" fill="none" stroke="#f3dcbc" stroke-width="0.9"/>
<circle cx="583.42" cy="324.88" r="1.5" fill="none" stroke="#f3dcbc" stroke-width="0.9"/>
<circle cx="585.73" cy="326.38" r="1.5" fill="none" stroke="#f3dcbc" stroke-width="0.9"/>
<circle cx="588.38" cy="328.25" r="1.5" fill="none" stroke="#f3dcbc" stroke-width="0.9"/>
<circle cx="590.67" cy="329.8" r="1.5" fill="none" stroke="#f3dcbc" stroke-width="0.9"/>
<circle cx="593.13" cy="330.92" r="1.5" fill="none" stroke="#f3dcbc" stroke-width="0.9"/>
<circle cx="595.83" cy="331.42" r="1.5" fill="none" stroke="#f3dcbc" stroke-width="0.9"/>
<circle cx="598.5" cy="330.66" r="1.5" fill="none" stroke="#f3dcbc" stroke-width="0.9"/>
<circle cx="600.75" cy="329.28" r="1.5" fill="none" stroke="#f3dcbc" stroke-width="0.9"/>
<circle cx="603.32" cy="327.88" r="1.5" fill="none" stroke="#f3dcbc" stroke-width="0.9"/>
<circle cx="605.88" cy="326.83" r="1.5" fill="none" stroke="#f3dcbc" stroke-width="0.9"/>
<circle cx="608.44" cy="326.16" r="1.5" fill="none" stroke="#f3dcbc" stroke-width="0.9"/>
<circle cx="611.33" cy="325.79" r="1.5" fill="none" stroke="#f3dcbc" stroke-width="0.9"/>
<circle cx="613.97" cy="325.94" r="1.5" fill="none" stroke="#f3dcbc" stroke-width="0.9"/>
<circle cx="616.54" cy="326.61" r="1.5" fill="none" stroke="#f3dcbc" stroke-width="0.9"/>
<circle cx="619.1" cy="327.83" r="1.5" fill="none" stroke="#f3dcbc" stroke-width="0.9"/>
<circle cx="621.35" cy="329.42" r="1.5" fill="none" stroke="#f3dcbc" stroke-width="0.9"/>
<circle cx="623.3" cy="331.22" r="1.5" fill="none" stroke="#f3dcbc" stroke-width="0.9"/>
<circle cx="625.32" cy="333.18" r="1.5" fill="none" stroke="#f3dcbc" stroke-width="0.9"/>
<circle cx="627.18" cy="335.19" r="1.5" fill="none" stroke="#f3dcbc" stroke-width="0.9"/>
<polyline points="506.6,340.9 506.97,340.6 507.49,340.18 508.11,339.68 508.76,339.16 509.41,338.65 510,338.2 510.5,337.83 510.94,337.49 511.38,337.17 511.85,336.85 512.41,336.5 513.1,336.1 513.94,335.63 514.91,335.11 515.96,334.56 517.06,334 518.18,333.48 519.3,333 520.4,332.56 521.51,332.14 522.64,331.74 523.81,331.38 525.03,331.06 526.3,330.8 527.65,330.59 529.07,330.41 530.54,330.28 532.03,330.2 533.52,330.17 535,330.2 536.5,330.3 538.06,330.46 539.62,330.68 541.13,330.93 542.54,331.21 543.8,331.5 544.89,331.83 545.86,332.2 546.73,332.6 547.53,333 548.27,333.38 549,333.7 549.7,333.99 550.35,334.26 550.96,334.5 551.51,334.71 552.03,334.88 552.5,335 552.88,335.08 553.16,335.14 553.39,335.15 553.64,335.11 553.96,335 554.4,334.8 554.99,334.48 555.69,334.05 556.45,333.54 557.25,333.02 558.04,332.52 558.8,332.1 559.52,331.75 560.24,331.42 560.95,331.12 561.66,330.85 562.38,330.61 563.1,330.4 563.83,330.22 564.56,330.07 565.29,329.96 566.03,329.87 566.77,329.82 567.5,329.8 568.23,329.81 568.97,329.84 569.7,329.9 570.43,330.01 571.17,330.17 571.9,330.4 572.64,330.71 573.4,331.09 574.16,331.52 574.9,331.99 575.62,332.49 576.3,333 576.96,333.55 577.61,334.16 578.24,334.8 578.83,335.43 579.35,336 579.8,336.5 580.16,336.92 580.44,337.29 580.67,337.62 580.84,337.9 580.98,338.12 581.1,338.3" fill="none" stroke="#b4b1f3" stroke-width="1.4" stroke-linejoin="round" stroke-linecap="round" />
<polyline points="513.1,340.9 513.58,340.31 514.24,339.49 515.03,338.52 515.87,337.49 516.72,336.49 517.5,335.6 518.23,334.82 518.97,334.08 519.7,333.37 520.43,332.67 521.17,331.99 521.9,331.3 522.58,330.64 523.21,330.02 523.83,329.41 524.51,328.78 525.32,328.08 526.3,327.3 527.5,326.37 528.88,325.33 530.37,324.22 531.93,323.12 533.49,322.09 535,321.2 536.46,320.45 537.93,319.77 539.4,319.17 540.87,318.64 542.34,318.15 543.8,317.7 545.28,317.29 546.8,316.94 548.31,316.63 549.78,316.37 551.19,316.16 552.5,316 553.66,315.88 554.69,315.8 555.65,315.76 556.61,315.78 557.64,315.86 558.8,316 560.11,316.21 561.52,316.49 562.99,316.83 564.5,317.22 566.02,317.64 567.5,318.1 568.96,318.58 570.43,319.1 571.9,319.65 573.37,320.25 574.84,320.9 576.3,321.6 577.78,322.39 579.3,323.27 580.81,324.21 582.29,325.15 583.7,326.06 585,326.9 586.2,327.7 587.32,328.49 588.38,329.25 589.37,329.96 590.31,330.58 591.2,331.1 592.05,331.51 592.83,331.82 593.57,332.05 594.26,332.21 594.9,332.33 595.5,332.4 596.04,332.42 596.5,332.39 596.92,332.3 597.32,332.17 597.74,332 598.2,331.8 598.7,331.56 599.23,331.25 599.77,330.91 600.31,330.56 600.86,330.21 601.4,329.9 601.93,329.61 602.47,329.32 603,329.04 603.53,328.78 604.07,328.53 604.6,328.3 605.13,328.09 605.67,327.9 606.2,327.73 606.73,327.57 607.27,327.43 607.8,327.3 608.33,327.18 608.86,327.07 609.39,326.98 609.93,326.9 610.46,326.84 611,326.8 611.55,326.78 612.1,326.79 612.65,326.81 613.2,326.85 613.75,326.91 614.3,327 614.84,327.11 615.37,327.24 615.91,327.39 616.44,327.57 616.97,327.77 617.5,328 618.03,328.25 618.57,328.53 619.1,328.83 619.63,329.16 620.17,329.52 620.7,329.9 621.24,330.33 621.79,330.8 622.34,331.31 622.88,331.82 623.4,332.32 623.9,332.8 624.38,333.26 624.86,333.73 625.32,334.18 625.75,334.62 626.15,335.03 626.5,335.4 626.81,335.74 627.08,336.07 627.31,336.36 627.51,336.62 627.67,336.84 627.8,337" fill="none" stroke="#e7b374" stroke-width="1.4" stroke-linejoin="round" stroke-linecap="round" />
<rect x="490.4" y="201.1" width="187.8" height="1.8" fill="#666"/>
<rect x="490.4" y="201.1" width="1.8" height="141.6" fill="#6a6a6a"/>
<rect x="676.4" y="201.1" width="1.8" height="141.6" fill="#3e3e3e"/>
<rect x="490.4" y="340.9" width="187.8" height="1.8" fill="#3a3a3a"/>
<rect x="486.8" y="341.2" width="4" height="1.2" fill="#333"/>
<text x="486.3" y="344.7" font-size="8" font-weight="bold" text-anchor="end" fill="#1a1a1a" opacity="0.995" stroke="#1a1a1a" stroke-width="0.18" >0.0</text>
<rect x="486.8" y="310.1" width="4" height="1.2" fill="#333"/>
<text x="486.3" y="313.6" font-size="8" font-weight="bold" text-anchor="end" fill="#1a1a1a" opacity="0.995" stroke="#1a1a1a" stroke-width="0.18" >0.1</text>
<rect x="486.8" y="279" width="4" height="1.2" fill="#333"/>
<text x="486.3" y="282.5" font-size="8" font-weight="bold" text-anchor="end" fill="#1a1a1a" opacity="0.995" stroke="#1a1a1a" stroke-width="0.18" >0.2</text>
<rect x="486.8" y="247.9" width="4" height="1.2" fill="#333"/>
<text x="486.3" y="251.4" font-size="8" font-weight="bold" text-anchor="end" fill="#1a1a1a" opacity="0.995" stroke="#1a1a1a" stroke-width="0.18" >0.3</text>
<rect x="486.8" y="216.8" width="4" height="1.2" fill="#333"/>
<text x="486.3" y="220.3" font-size="8" font-weight="bold" text-anchor="end" fill="#1a1a1a" opacity="0.995" stroke="#1a1a1a" stroke-width="0.18" >0.4</text>
<rect x="488.7" y="325.65" width="2" height="1.2" fill="#333"/>
<rect x="488.7" y="294.55" width="2" height="1.2" fill="#333"/>
<rect x="488.7" y="263.45" width="2" height="1.2" fill="#333"/>
<rect x="488.7" y="232.35" width="2" height="1.2" fill="#333"/>
<rect x="490.7" y="342.3" width="1.2" height="3.2" fill="#333"/>
<text x="491.3" y="353.3" font-size="8" font-weight="bold" text-anchor="middle" fill="#1a1a1a" opacity="0.995" stroke="#1a1a1a" stroke-width="0.18" >0.0</text>
<rect x="521.7" y="342.3" width="1.2" height="3.2" fill="#333"/>
<text x="522.3" y="353.3" font-size="8" font-weight="bold" text-anchor="middle" fill="#1a1a1a" opacity="0.995" stroke="#1a1a1a" stroke-width="0.18" >0.1</text>
<rect x="552.7" y="342.3" width="1.2" height="3.2" fill="#333"/>
<text x="553.3" y="353.3" font-size="8" font-weight="bold" text-anchor="middle" fill="#1a1a1a" opacity="0.995" stroke="#1a1a1a" stroke-width="0.18" >0.2</text>
<rect x="583.7" y="342.3" width="1.2" height="3.2" fill="#333"/>
<text x="584.3" y="353.3" font-size="8" font-weight="bold" text-anchor="middle" fill="#1a1a1a" opacity="0.995" stroke="#1a1a1a" stroke-width="0.18" >0.3</text>
<rect x="614.7" y="342.3" width="1.2" height="3.2" fill="#333"/>
<text x="615.3" y="353.3" font-size="8" font-weight="bold" text-anchor="middle" fill="#1a1a1a" opacity="0.995" stroke="#1a1a1a" stroke-width="0.18" >0.4</text>
<rect x="645.7" y="342.3" width="1.2" height="3.2" fill="#333"/>
<text x="646.3" y="353.3" font-size="8" font-weight="bold" text-anchor="middle" fill="#1a1a1a" opacity="0.995" stroke="#1a1a1a" stroke-width="0.18" >0.5</text>
<rect x="676.7" y="342.3" width="1.2" height="3.2" fill="#333"/>
<text x="677.3" y="353.3" font-size="8" font-weight="bold" text-anchor="middle" fill="#1a1a1a" opacity="0.995" stroke="#1a1a1a" stroke-width="0.18" >0.6</text>
<rect x="506.2" y="342.3" width="1.2" height="1.8" fill="#333"/>
<rect x="537.2" y="342.3" width="1.2" height="1.8" fill="#333"/>
<rect x="568.2" y="342.3" width="1.2" height="1.8" fill="#333"/>
<rect x="599.2" y="342.3" width="1.2" height="1.8" fill="#333"/>
<rect x="630.2" y="342.3" width="1.2" height="1.8" fill="#333"/>
<rect x="661.2" y="342.3" width="1.2" height="1.8" fill="#333"/>
<text x="583.2" y="365.6" font-size="8.4" font-weight="bold" text-anchor="middle" fill="#1a1a1a" opacity="0.995" stroke="#1a1a1a" stroke-width="0.18" >Z' (Ω)</text>
<text x="470.4" y="271.8" font-size="8.4" font-weight="bold" text-anchor="middle" fill="#1a1a1a" opacity="0.995" stroke="#1a1a1a" stroke-width="0.18" transform="rotate(-90 470.4 271.8)">-Z'' (Ω)</text>
<text x="588" y="216.6" font-size="8.2" font-weight="bold" text-anchor="start" fill="#1a1a1a" opacity="0.995" stroke="#1a1a1a" stroke-width="0.18" >PEMWE 1.75 V</text>
<circle cx="590.4" cy="224.2" r="1.4" fill="#e4e2fb" stroke="#cfcdf7" stroke-width="0.6"/>
<circle cx="590.4" cy="236.2" r="1.4" fill="#f8ecdc" stroke="#efdcc0" stroke-width="0.6"/>
<text x="602" y="226.8" font-size="8.2" font-weight="bold" text-anchor="start" fill="#1a1a1a" opacity="0.995" stroke="#1a1a1a" stroke-width="0.18" >FOH-Nafion/Co<tspan font-size="5.74" baseline-shift="-1.97">3</tspan>O<tspan font-size="5.74" baseline-shift="-1.97">4</tspan></text>
<text x="602" y="238.8" font-size="8.2" font-weight="bold" text-anchor="start" fill="#1a1a1a" opacity="0.995" stroke="#1a1a1a" stroke-width="0.18" >Nafion/Co<tspan font-size="5.74" baseline-shift="-1.97">3</tspan>O<tspan font-size="5.74" baseline-shift="-1.97">4</tspan></text>
<line x1="502.3" y1="270.7" x2="508.4" y2="270.7" stroke="#333" stroke-width="1.25"/>
<rect x="508.4" y="266.8" width="11.1" height="7.6" fill="#fff" stroke="#333" stroke-width="1.25"/>
<line x1="519.5" y1="270.7" x2="526.3" y2="270.7" stroke="#333" stroke-width="1.25"/>
<line x1="526.3" y1="258.8" x2="526.3" y2="283.4" stroke="#333" stroke-width="1.25"/>
<line x1="550.8" y1="258.8" x2="550.8" y2="283.4" stroke="#333" stroke-width="1.25"/>
<line x1="525.7" y1="259.4" x2="551.4" y2="259.4" stroke="#333" stroke-width="1.25"/>
<line x1="525.7" y1="282.8" x2="551.4" y2="282.8" stroke="#333" stroke-width="1.25"/>
<line x1="557.9" y1="258.8" x2="557.9" y2="283.4" stroke="#333" stroke-width="1.25"/>
<line x1="582.4" y1="258.8" x2="582.4" y2="283.4" stroke="#333" stroke-width="1.25"/>
<line x1="557.3" y1="259.4" x2="583" y2="259.4" stroke="#333" stroke-width="1.25"/>
<line x1="557.3" y1="282.8" x2="583" y2="282.8" stroke="#333" stroke-width="1.25"/>
<rect x="532.3" y="255.6" width="11.6" height="7.7" fill="#fff" stroke="#333" stroke-width="1.25"/>
<rect x="564.4" y="255.6" width="11.6" height="7.7" fill="#fff" stroke="#333" stroke-width="1.25"/>
<line x1="550.8" y1="270.7" x2="557.9" y2="270.7" stroke="#333" stroke-width="1.25"/>
<line x1="582.4" y1="270.7" x2="588.4" y2="270.7" stroke="#333" stroke-width="1.25"/>
<polyline points="534.3,279.2 538.5,282.8 534.3,286.4" fill="none" stroke="#333" stroke-width="1.2"/>
<polyline points="537.7,279.2 541.9,282.8 537.7,286.4" fill="none" stroke="#333" stroke-width="1.2"/>
<polyline points="565.6,279.2 569.8,282.8 565.6,286.4" fill="none" stroke="#333" stroke-width="1.2"/>
<polyline points="569,279.2 573.2,282.8 569,286.4" fill="none" stroke="#333" stroke-width="1.2"/>
<text x="509.6" y="282.5" font-size="7.6" fill="#2a2a2a" stroke="#2a2a2a" stroke-width="0.2" opacity="0.995">R<tspan font-size="5.6" baseline-shift="-1.6">s</tspan></text>
<text x="533.4" y="250.6" font-size="7.6" fill="#2a2a2a" stroke="#2a2a2a" stroke-width="0.2" opacity="0.995">R<tspan font-size="5.6" baseline-shift="-1.6">ct</tspan></text>
<text x="565.6" y="250.6" font-size="7.6" fill="#2a2a2a" stroke="#2a2a2a" stroke-width="0.2" opacity="0.995">R<tspan font-size="5.6" baseline-shift="-1.6">mt</tspan></text>
<text x="529" y="293.1" font-size="7.85" fill="#2a2a2a" stroke="#2a2a2a" stroke-width="0.2" opacity="0.995">CPE1</text>
<text x="558.8" y="293.1" font-size="7.85" fill="#2a2a2a" stroke="#2a2a2a" stroke-width="0.2" opacity="0.995">CPE2</text>
<circle cx="47.6" cy="422" r="2.0" fill="#efcfa2" stroke="#dfae72" stroke-width="0.6"/>
<circle cx="49.12" cy="422.01" r="2.0" fill="#efcfa2" stroke="#dfae72" stroke-width="0.6"/>
<circle cx="50.52" cy="422.01" r="2.0" fill="#efcfa2" stroke="#dfae72" stroke-width="0.6"/>
<circle cx="52.1" cy="422.83" r="2.0" fill="#efcfa2" stroke="#dfae72" stroke-width="0.6"/>
<circle cx="53.73" cy="422.37" r="2.0" fill="#efcfa2" stroke="#dfae72" stroke-width="0.6"/>
<circle cx="55.29" cy="423.15" r="2.0" fill="#efcfa2" stroke="#dfae72" stroke-width="0.6"/>
<circle cx="56.67" cy="423.13" r="2.0" fill="#efcfa2" stroke="#dfae72" stroke-width="0.6"/>
<circle cx="57.93" cy="422.93" r="2.0" fill="#efcfa2" stroke="#dfae72" stroke-width="0.6"/>
<circle cx="59.77" cy="423.72" r="2.0" fill="#efcfa2" stroke="#dfae72" stroke-width="0.6"/>
<circle cx="61.05" cy="423.32" r="2.0" fill="#efcfa2" stroke="#dfae72" stroke-width="0.6"/>
<circle cx="62.44" cy="423.96" r="2.0" fill="#efcfa2" stroke="#dfae72" stroke-width="0.6"/>
<circle cx="64" cy="423.68" r="2.0" fill="#efcfa2" stroke="#dfae72" stroke-width="0.6"/>
<circle cx="65.76" cy="423.88" r="2.0" fill="#efcfa2" stroke="#dfae72" stroke-width="0.6"/>
<circle cx="67.67" cy="424.46" r="2.0" fill="#efcfa2" stroke="#dfae72" stroke-width="0.6"/>
<circle cx="69.7" cy="425.13" r="2.0" fill="#efcfa2" stroke="#dfae72" stroke-width="0.6"/>
<circle cx="71.79" cy="424.46" r="2.0" fill="#efcfa2" stroke="#dfae72" stroke-width="0.6"/>
<circle cx="73.91" cy="424.74" r="2.0" fill="#efcfa2" stroke="#dfae72" stroke-width="0.6"/>
<circle cx="76" cy="425.35" r="2.0" fill="#efcfa2" stroke="#dfae72" stroke-width="0.6"/>
<circle cx="78.07" cy="425.85" r="2.0" fill="#efcfa2" stroke="#dfae72" stroke-width="0.6"/>
<circle cx="80.14" cy="425.51" r="2.0" fill="#efcfa2" stroke="#dfae72" stroke-width="0.6"/>
<circle cx="82.24" cy="425.38" r="2.0" fill="#efcfa2" stroke="#dfae72" stroke-width="0.6"/>
<circle cx="84.37" cy="426.13" r="2.0" fill="#efcfa2" stroke="#dfae72" stroke-width="0.6"/>
<circle cx="86.55" cy="425.05" r="2.0" fill="#efcfa2" stroke="#dfae72" stroke-width="0.6"/>
<circle cx="88.8" cy="426.03" r="2.0" fill="#efcfa2" stroke="#dfae72" stroke-width="0.6"/>
<circle cx="91.2" cy="425.31" r="2.0" fill="#efcfa2" stroke="#dfae72" stroke-width="0.6"/>
<circle cx="92.46" cy="425.1" r="2.0" fill="#efcfa2" stroke="#dfae72" stroke-width="0.6"/>
<circle cx="93.76" cy="425.02" r="2.0" fill="#efcfa2" stroke="#dfae72" stroke-width="0.6"/>
<circle cx="95.06" cy="425.2" r="2.0" fill="#efcfa2" stroke="#dfae72" stroke-width="0.6"/>
<circle cx="96.36" cy="425.75" r="2.0" fill="#efcfa2" stroke="#dfae72" stroke-width="0.6"/>
<circle cx="97.65" cy="424.93" r="2.0" fill="#efcfa2" stroke="#dfae72" stroke-width="0.6"/>
<circle cx="98.91" cy="425.35" r="2.0" fill="#efcfa2" stroke="#dfae72" stroke-width="0.6"/>
<circle cx="101.29" cy="425.29" r="2.0" fill="#efcfa2" stroke="#dfae72" stroke-width="0.6"/>
<circle cx="103.4" cy="424.85" r="2.0" fill="#efcfa2" stroke="#dfae72" stroke-width="0.6"/>
<circle cx="105.18" cy="424.94" r="2.0" fill="#efcfa2" stroke="#dfae72" stroke-width="0.6"/>
<circle cx="106.7" cy="424.25" r="2.0" fill="#efcfa2" stroke="#dfae72" stroke-width="0.6"/>
<circle cx="108.06" cy="424.13" r="2.0" fill="#efcfa2" stroke="#dfae72" stroke-width="0.6"/>
<circle cx="109.33" cy="424.17" r="2.0" fill="#efcfa2" stroke="#dfae72" stroke-width="0.6"/>
<circle cx="110.62" cy="424.59" r="2.0" fill="#efcfa2" stroke="#dfae72" stroke-width="0.6"/>
<circle cx="112" cy="424.11" r="2.0" fill="#efcfa2" stroke="#dfae72" stroke-width="0.6"/>
<circle cx="113.52" cy="423.78" r="2.0" fill="#efcfa2" stroke="#dfae72" stroke-width="0.6"/>
<circle cx="115.12" cy="423.88" r="2.0" fill="#efcfa2" stroke="#dfae72" stroke-width="0.6"/>
<circle cx="116.73" cy="423.49" r="2.0" fill="#efcfa2" stroke="#dfae72" stroke-width="0.6"/>
<circle cx="118.28" cy="423.04" r="2.0" fill="#efcfa2" stroke="#dfae72" stroke-width="0.6"/>
<circle cx="119.69" cy="423.36" r="2.0" fill="#efcfa2" stroke="#dfae72" stroke-width="0.6"/>
<circle cx="121.41" cy="422.77" r="2.0" fill="#efcfa2" stroke="#dfae72" stroke-width="0.6"/>
<circle cx="122.68" cy="421.67" r="2.0" fill="#efcfa2" stroke="#dfae72" stroke-width="0.6"/>
<circle cx="123.93" cy="421.25" r="2.0" fill="#efcfa2" stroke="#dfae72" stroke-width="0.6"/>
<circle cx="125" cy="420.43" r="2.0" fill="#efcfa2" stroke="#dfae72" stroke-width="0.6"/>
<circle cx="126.16" cy="420.06" r="2.0" fill="#efcfa2" stroke="#dfae72" stroke-width="0.6"/>
<circle cx="127.3" cy="419.02" r="2.0" fill="#efcfa2" stroke="#dfae72" stroke-width="0.6"/>
<circle cx="128.35" cy="417.72" r="2.0" fill="#efcfa2" stroke="#dfae72" stroke-width="0.6"/>
<circle cx="129.41" cy="417.78" r="2.0" fill="#efcfa2" stroke="#dfae72" stroke-width="0.6"/>
<circle cx="130.53" cy="416" r="2.0" fill="#efcfa2" stroke="#dfae72" stroke-width="0.6"/>
<circle cx="131.66" cy="415.7" r="2.0" fill="#efcfa2" stroke="#dfae72" stroke-width="0.6"/>
<circle cx="132.8" cy="415.43" r="2.0" fill="#efcfa2" stroke="#dfae72" stroke-width="0.6"/>
<circle cx="133.96" cy="414.02" r="2.0" fill="#efcfa2" stroke="#dfae72" stroke-width="0.6"/>
<circle cx="79.6" cy="422.3" r="2.0" fill="#efcfa2" stroke="#dfae72" stroke-width="0.6"/>
<circle cx="101.5" cy="422.3" r="2.0" fill="#efcfa2" stroke="#dfae72" stroke-width="0.6"/>
<circle cx="136.1" cy="409.3" r="2.0" fill="#efcfa2" stroke="#dfae72" stroke-width="0.6"/>
<circle cx="138" cy="399.3" r="2.0" fill="#efcfa2" stroke="#dfae72" stroke-width="0.6"/>
<circle cx="138.1" cy="395" r="2.0" fill="#efcfa2" stroke="#dfae72" stroke-width="0.6"/>
<circle cx="55.16" cy="437.48" r="2.0" fill="#c9c6f6" stroke="#a9a5ee" stroke-width="0.6"/>
<circle cx="56.38" cy="437.55" r="2.0" fill="#c9c6f6" stroke="#a9a5ee" stroke-width="0.6"/>
<circle cx="57.82" cy="438.75" r="2.0" fill="#c9c6f6" stroke="#a9a5ee" stroke-width="0.6"/>
<circle cx="59.43" cy="439.4" r="2.0" fill="#c9c6f6" stroke="#a9a5ee" stroke-width="0.6"/>
<circle cx="61.22" cy="439.7" r="2.0" fill="#c9c6f6" stroke="#a9a5ee" stroke-width="0.6"/>
<circle cx="62.57" cy="440.33" r="2.0" fill="#c9c6f6" stroke="#a9a5ee" stroke-width="0.6"/>
<circle cx="64.01" cy="440.09" r="2.0" fill="#c9c6f6" stroke="#a9a5ee" stroke-width="0.6"/>
<circle cx="65.5" cy="440.79" r="2.0" fill="#c9c6f6" stroke="#a9a5ee" stroke-width="0.6"/>
<circle cx="67.03" cy="441.01" r="2.0" fill="#c9c6f6" stroke="#a9a5ee" stroke-width="0.6"/>
<circle cx="68.54" cy="441.29" r="2.0" fill="#c9c6f6" stroke="#a9a5ee" stroke-width="0.6"/>
<circle cx="70" cy="441.46" r="2.0" fill="#c9c6f6" stroke="#a9a5ee" stroke-width="0.6"/>
<circle cx="71.44" cy="442.12" r="2.0" fill="#c9c6f6" stroke="#a9a5ee" stroke-width="0.6"/>
<circle cx="72.89" cy="442.5" r="2.0" fill="#c9c6f6" stroke="#a9a5ee" stroke-width="0.6"/>
<circle cx="74.35" cy="442.29" r="2.0" fill="#c9c6f6" stroke="#a9a5ee" stroke-width="0.6"/>
<circle cx="75.8" cy="442.73" r="2.0" fill="#c9c6f6" stroke="#a9a5ee" stroke-width="0.6"/>
<circle cx="77.23" cy="442.36" r="2.0" fill="#c9c6f6" stroke="#a9a5ee" stroke-width="0.6"/>
<circle cx="78.63" cy="443.22" r="2.0" fill="#c9c6f6" stroke="#a9a5ee" stroke-width="0.6"/>
<circle cx="80" cy="443.35" r="2.0" fill="#c9c6f6" stroke="#a9a5ee" stroke-width="0.6"/>
<circle cx="81.27" cy="443.84" r="2.0" fill="#c9c6f6" stroke="#a9a5ee" stroke-width="0.6"/>
<circle cx="82.99" cy="443.82" r="2.0" fill="#c9c6f6" stroke="#a9a5ee" stroke-width="0.6"/>
<circle cx="84.69" cy="443.4" r="2.0" fill="#c9c6f6" stroke="#a9a5ee" stroke-width="0.6"/>
<circle cx="86.55" cy="443.61" r="2.0" fill="#c9c6f6" stroke="#a9a5ee" stroke-width="0.6"/>
<circle cx="88" cy="444" r="2.0" fill="#c9c6f6" stroke="#a9a5ee" stroke-width="0.6"/>
<circle cx="89.66" cy="443.5" r="2.0" fill="#c9c6f6" stroke="#a9a5ee" stroke-width="0.6"/>
<circle cx="91.51" cy="444.11" r="2.0" fill="#c9c6f6" stroke="#a9a5ee" stroke-width="0.6"/>
<circle cx="93.5" cy="444.01" r="2.0" fill="#c9c6f6" stroke="#a9a5ee" stroke-width="0.6"/>
<circle cx="95.61" cy="444.16" r="2.0" fill="#c9c6f6" stroke="#a9a5ee" stroke-width="0.6"/>
<circle cx="97.8" cy="444.31" r="2.0" fill="#c9c6f6" stroke="#a9a5ee" stroke-width="0.6"/>
<circle cx="100.03" cy="445.21" r="2.0" fill="#c9c6f6" stroke="#a9a5ee" stroke-width="0.6"/>
<circle cx="102.28" cy="444.75" r="2.0" fill="#c9c6f6" stroke="#a9a5ee" stroke-width="0.6"/>
<circle cx="104.52" cy="445.02" r="2.0" fill="#c9c6f6" stroke="#a9a5ee" stroke-width="0.6"/>
<circle cx="106.76" cy="445.3" r="2.0" fill="#c9c6f6" stroke="#a9a5ee" stroke-width="0.6"/>
<circle cx="109.04" cy="445.91" r="2.0" fill="#c9c6f6" stroke="#a9a5ee" stroke-width="0.6"/>
<circle cx="111.36" cy="445.24" r="2.0" fill="#c9c6f6" stroke="#a9a5ee" stroke-width="0.6"/>
<circle cx="113.74" cy="445.72" r="2.0" fill="#c9c6f6" stroke="#a9a5ee" stroke-width="0.6"/>
<circle cx="116.18" cy="445.92" r="2.0" fill="#c9c6f6" stroke="#a9a5ee" stroke-width="0.6"/>
<circle cx="117.43" cy="446.3" r="2.0" fill="#c9c6f6" stroke="#a9a5ee" stroke-width="0.6"/>
<circle cx="118.7" cy="446.28" r="2.0" fill="#c9c6f6" stroke="#a9a5ee" stroke-width="0.6"/>
<circle cx="120" cy="446.36" r="2.0" fill="#c9c6f6" stroke="#a9a5ee" stroke-width="0.6"/>
<circle cx="121.32" cy="445.82" r="2.0" fill="#c9c6f6" stroke="#a9a5ee" stroke-width="0.6"/>
<circle cx="122.68" cy="445.99" r="2.0" fill="#c9c6f6" stroke="#a9a5ee" stroke-width="0.6"/>
<circle cx="124.06" cy="445.97" r="2.0" fill="#c9c6f6" stroke="#a9a5ee" stroke-width="0.6"/>
<circle cx="125.47" cy="446.52" r="2.0" fill="#c9c6f6" stroke="#a9a5ee" stroke-width="0.6"/>
<circle cx="126.89" cy="446.62" r="2.0" fill="#c9c6f6" stroke="#a9a5ee" stroke-width="0.6"/>
<circle cx="128.33" cy="445.84" r="2.0" fill="#c9c6f6" stroke="#a9a5ee" stroke-width="0.6"/>
<circle cx="129.79" cy="445.89" r="2.0" fill="#c9c6f6" stroke="#a9a5ee" stroke-width="0.6"/>
<circle cx="131.25" cy="445.96" r="2.0" fill="#c9c6f6" stroke="#a9a5ee" stroke-width="0.6"/>
<circle cx="132.72" cy="445.98" r="2.0" fill="#c9c6f6" stroke="#a9a5ee" stroke-width="0.6"/>
<circle cx="134.19" cy="446.25" r="2.0" fill="#c9c6f6" stroke="#a9a5ee" stroke-width="0.6"/>
<circle cx="135.65" cy="446.37" r="2.0" fill="#c9c6f6" stroke="#a9a5ee" stroke-width="0.6"/>
<circle cx="137.11" cy="446.05" r="2.0" fill="#c9c6f6" stroke="#a9a5ee" stroke-width="0.6"/>
<circle cx="138.56" cy="445.8" r="2.0" fill="#c9c6f6" stroke="#a9a5ee" stroke-width="0.6"/>
<circle cx="140" cy="446.22" r="2.0" fill="#c9c6f6" stroke="#a9a5ee" stroke-width="0.6"/>
<circle cx="141.38" cy="446.17" r="2.0" fill="#c9c6f6" stroke="#a9a5ee" stroke-width="0.6"/>
<circle cx="142.68" cy="446.37" r="2.0" fill="#c9c6f6" stroke="#a9a5ee" stroke-width="0.6"/>
<circle cx="145.13" cy="446.75" r="2.0" fill="#c9c6f6" stroke="#a9a5ee" stroke-width="0.6"/>
<circle cx="147.52" cy="446.47" r="2.0" fill="#c9c6f6" stroke="#a9a5ee" stroke-width="0.6"/>
<circle cx="150.03" cy="446.27" r="2.0" fill="#c9c6f6" stroke="#a9a5ee" stroke-width="0.6"/>
<circle cx="151.38" cy="446.35" r="2.0" fill="#c9c6f6" stroke="#a9a5ee" stroke-width="0.6"/>
<circle cx="152.83" cy="446.39" r="2.0" fill="#c9c6f6" stroke="#a9a5ee" stroke-width="0.6"/>
<circle cx="154.39" cy="445.75" r="2.0" fill="#c9c6f6" stroke="#a9a5ee" stroke-width="0.6"/>
<circle cx="156.09" cy="446.56" r="2.0" fill="#c9c6f6" stroke="#a9a5ee" stroke-width="0.6"/>
<circle cx="157.96" cy="446.41" r="2.0" fill="#c9c6f6" stroke="#a9a5ee" stroke-width="0.6"/>
<circle cx="160" cy="446.47" r="2.0" fill="#c9c6f6" stroke="#a9a5ee" stroke-width="0.6"/>
<circle cx="162.24" cy="446.36" r="2.0" fill="#c9c6f6" stroke="#a9a5ee" stroke-width="0.6"/>
<circle cx="164.66" cy="445.91" r="2.0" fill="#c9c6f6" stroke="#a9a5ee" stroke-width="0.6"/>
<circle cx="167.25" cy="445.88" r="2.0" fill="#c9c6f6" stroke="#a9a5ee" stroke-width="0.6"/>
<circle cx="169.97" cy="445.53" r="2.0" fill="#c9c6f6" stroke="#a9a5ee" stroke-width="0.6"/>
<circle cx="172.81" cy="446.01" r="2.0" fill="#c9c6f6" stroke="#a9a5ee" stroke-width="0.6"/>
<circle cx="175.74" cy="445.39" r="2.0" fill="#c9c6f6" stroke="#a9a5ee" stroke-width="0.6"/>
<circle cx="178.75" cy="445.34" r="2.0" fill="#c9c6f6" stroke="#a9a5ee" stroke-width="0.6"/>
<circle cx="181.81" cy="445.42" r="2.0" fill="#c9c6f6" stroke="#a9a5ee" stroke-width="0.6"/>
<circle cx="184.89" cy="445.31" r="2.0" fill="#c9c6f6" stroke="#a9a5ee" stroke-width="0.6"/>
<circle cx="187.99" cy="445.42" r="2.0" fill="#c9c6f6" stroke="#a9a5ee" stroke-width="0.6"/>
<circle cx="191.07" cy="445.07" r="2.0" fill="#c9c6f6" stroke="#a9a5ee" stroke-width="0.6"/>
<circle cx="194.11" cy="444.95" r="2.0" fill="#c9c6f6" stroke="#a9a5ee" stroke-width="0.6"/>
<circle cx="197.1" cy="445.03" r="2.0" fill="#c9c6f6" stroke="#a9a5ee" stroke-width="0.6"/>
<circle cx="200" cy="444.9" r="2.0" fill="#c9c6f6" stroke="#a9a5ee" stroke-width="0.6"/>
<circle cx="202.88" cy="445.09" r="2.0" fill="#c9c6f6" stroke="#a9a5ee" stroke-width="0.6"/>
<circle cx="205.8" cy="444.67" r="2.0" fill="#c9c6f6" stroke="#a9a5ee" stroke-width="0.6"/>
<circle cx="208.75" cy="445.43" r="2.0" fill="#c9c6f6" stroke="#a9a5ee" stroke-width="0.6"/>
<circle cx="211.72" cy="445.08" r="2.0" fill="#c9c6f6" stroke="#a9a5ee" stroke-width="0.6"/>
<circle cx="214.7" cy="444.53" r="2.0" fill="#c9c6f6" stroke="#a9a5ee" stroke-width="0.6"/>
<circle cx="217.67" cy="444.54" r="2.0" fill="#c9c6f6" stroke="#a9a5ee" stroke-width="0.6"/>
<circle cx="220.62" cy="444.53" r="2.0" fill="#c9c6f6" stroke="#a9a5ee" stroke-width="0.6"/>
<circle cx="223.56" cy="444.45" r="2.0" fill="#c9c6f6" stroke="#a9a5ee" stroke-width="0.6"/>
<circle cx="226.45" cy="444.12" r="2.0" fill="#c9c6f6" stroke="#a9a5ee" stroke-width="0.6"/>
<circle cx="229.3" cy="444.74" r="2.0" fill="#c9c6f6" stroke="#a9a5ee" stroke-width="0.6"/>
<circle cx="232.09" cy="444.79" r="2.0" fill="#c9c6f6" stroke="#a9a5ee" stroke-width="0.6"/>
<circle cx="234.81" cy="444.16" r="2.0" fill="#c9c6f6" stroke="#a9a5ee" stroke-width="0.6"/>
<circle cx="237.45" cy="444.08" r="2.0" fill="#c9c6f6" stroke="#a9a5ee" stroke-width="0.6"/>
<circle cx="240" cy="443.59" r="2.0" fill="#c9c6f6" stroke="#a9a5ee" stroke-width="0.6"/>
<circle cx="242.42" cy="443.51" r="2.0" fill="#c9c6f6" stroke="#a9a5ee" stroke-width="0.6"/>
<circle cx="244.72" cy="443.65" r="2.0" fill="#c9c6f6" stroke="#a9a5ee" stroke-width="0.6"/>
<circle cx="246.89" cy="443.48" r="2.0" fill="#c9c6f6" stroke="#a9a5ee" stroke-width="0.6"/>
<circle cx="248.98" cy="443.96" r="2.0" fill="#c9c6f6" stroke="#a9a5ee" stroke-width="0.6"/>
<circle cx="251.01" cy="443.2" r="2.0" fill="#c9c6f6" stroke="#a9a5ee" stroke-width="0.6"/>
<circle cx="252.98" cy="442.97" r="2.0" fill="#c9c6f6" stroke="#a9a5ee" stroke-width="0.6"/>
<circle cx="254.94" cy="443.8" r="2.0" fill="#c9c6f6" stroke="#a9a5ee" stroke-width="0.6"/>
<circle cx="256.9" cy="443.28" r="2.0" fill="#c9c6f6" stroke="#a9a5ee" stroke-width="0.6"/>
<circle cx="258.89" cy="442.8" r="2.0" fill="#c9c6f6" stroke="#a9a5ee" stroke-width="0.6"/>
<circle cx="260.93" cy="443.1" r="2.0" fill="#c9c6f6" stroke="#a9a5ee" stroke-width="0.6"/>
<circle cx="263.03" cy="442.48" r="2.0" fill="#c9c6f6" stroke="#a9a5ee" stroke-width="0.6"/>
<circle cx="265.23" cy="442.87" r="2.0" fill="#c9c6f6" stroke="#a9a5ee" stroke-width="0.6"/>
<circle cx="267.55" cy="443.2" r="2.0" fill="#c9c6f6" stroke="#a9a5ee" stroke-width="0.6"/>
<circle cx="270" cy="442.96" r="2.0" fill="#c9c6f6" stroke="#a9a5ee" stroke-width="0.6"/>
<circle cx="272.59" cy="442.67" r="2.0" fill="#c9c6f6" stroke="#a9a5ee" stroke-width="0.6"/>
<circle cx="275.27" cy="442.1" r="2.0" fill="#c9c6f6" stroke="#a9a5ee" stroke-width="0.6"/>
<circle cx="278.05" cy="442.06" r="2.0" fill="#c9c6f6" stroke="#a9a5ee" stroke-width="0.6"/>
<circle cx="280.89" cy="441.72" r="2.0" fill="#c9c6f6" stroke="#a9a5ee" stroke-width="0.6"/>
<circle cx="283.81" cy="442.17" r="2.0" fill="#c9c6f6" stroke="#a9a5ee" stroke-width="0.6"/>
<circle cx="286.77" cy="441.78" r="2.0" fill="#c9c6f6" stroke="#a9a5ee" stroke-width="0.6"/>
<circle cx="289.78" cy="441.87" r="2.0" fill="#c9c6f6" stroke="#a9a5ee" stroke-width="0.6"/>
<circle cx="292.81" cy="441.26" r="2.0" fill="#c9c6f6" stroke="#a9a5ee" stroke-width="0.6"/>
<circle cx="295.85" cy="440.99" r="2.0" fill="#c9c6f6" stroke="#a9a5ee" stroke-width="0.6"/>
<circle cx="298.9" cy="441.42" r="2.0" fill="#c9c6f6" stroke="#a9a5ee" stroke-width="0.6"/>
<circle cx="301.95" cy="441.44" r="2.0" fill="#c9c6f6" stroke="#a9a5ee" stroke-width="0.6"/>
<circle cx="304.97" cy="441.15" r="2.0" fill="#c9c6f6" stroke="#a9a5ee" stroke-width="0.6"/>
<circle cx="307.96" cy="440.95" r="2.0" fill="#c9c6f6" stroke="#a9a5ee" stroke-width="0.6"/>
<circle cx="310.9" cy="440.82" r="2.0" fill="#c9c6f6" stroke="#a9a5ee" stroke-width="0.6"/>
<circle cx="313.89" cy="440.59" r="2.0" fill="#c9c6f6" stroke="#a9a5ee" stroke-width="0.6"/>
<circle cx="317" cy="439.93" r="2.0" fill="#c9c6f6" stroke="#a9a5ee" stroke-width="0.6"/>
<circle cx="320.2" cy="440.06" r="2.0" fill="#c9c6f6" stroke="#a9a5ee" stroke-width="0.6"/>
<circle cx="323.45" cy="439.75" r="2.0" fill="#c9c6f6" stroke="#a9a5ee" stroke-width="0.6"/>
<circle cx="326.73" cy="439.27" r="2.0" fill="#c9c6f6" stroke="#a9a5ee" stroke-width="0.6"/>
<circle cx="329.99" cy="439.11" r="2.0" fill="#c9c6f6" stroke="#a9a5ee" stroke-width="0.6"/>
<circle cx="333.21" cy="439.21" r="2.0" fill="#c9c6f6" stroke="#a9a5ee" stroke-width="0.6"/>
<circle cx="336.35" cy="439.04" r="2.0" fill="#c9c6f6" stroke="#a9a5ee" stroke-width="0.6"/>
<circle cx="339.38" cy="439.33" r="2.0" fill="#c9c6f6" stroke="#a9a5ee" stroke-width="0.6"/>
<circle cx="342.27" cy="439.45" r="2.0" fill="#c9c6f6" stroke="#a9a5ee" stroke-width="0.6"/>
<circle cx="344.98" cy="438.81" r="2.0" fill="#c9c6f6" stroke="#a9a5ee" stroke-width="0.6"/>
<circle cx="347.47" cy="439.17" r="2.0" fill="#c9c6f6" stroke="#a9a5ee" stroke-width="0.6"/>
<circle cx="349.73" cy="439.1" r="2.0" fill="#c9c6f6" stroke="#a9a5ee" stroke-width="0.6"/>
<circle cx="351.7" cy="438.96" r="2.0" fill="#c9c6f6" stroke="#a9a5ee" stroke-width="0.6"/>
<circle cx="353.38" cy="438.26" r="2.0" fill="#c9c6f6" stroke="#a9a5ee" stroke-width="0.6"/>
<circle cx="354.81" cy="438.03" r="2.0" fill="#c9c6f6" stroke="#a9a5ee" stroke-width="0.6"/>
<circle cx="356.99" cy="437.87" r="2.0" fill="#c9c6f6" stroke="#a9a5ee" stroke-width="0.6"/>
<circle cx="358.47" cy="437.71" r="2.0" fill="#c9c6f6" stroke="#a9a5ee" stroke-width="0.6"/>
<circle cx="359.88" cy="437.54" r="2.0" fill="#c9c6f6" stroke="#a9a5ee" stroke-width="0.6"/>
<circle cx="361.47" cy="437.7" r="2.0" fill="#c9c6f6" stroke="#a9a5ee" stroke-width="0.6"/>
<circle cx="363.12" cy="437.74" r="2.0" fill="#c9c6f6" stroke="#a9a5ee" stroke-width="0.6"/>
<circle cx="364.6" cy="437.42" r="2.0" fill="#c9c6f6" stroke="#a9a5ee" stroke-width="0.6"/>
<circle cx="365.9" cy="436.8" r="2.0" fill="#c9c6f6" stroke="#a9a5ee" stroke-width="0.6"/>
<circle cx="367.41" cy="436.62" r="2.0" fill="#c9c6f6" stroke="#a9a5ee" stroke-width="0.6"/>
<circle cx="368.73" cy="436.44" r="2.0" fill="#c9c6f6" stroke="#a9a5ee" stroke-width="0.6"/>
<circle cx="370.01" cy="435.34" r="2.0" fill="#c9c6f6" stroke="#a9a5ee" stroke-width="0.6"/>
<circle cx="371.29" cy="435.45" r="2.0" fill="#c9c6f6" stroke="#a9a5ee" stroke-width="0.6"/>
<circle cx="372.63" cy="435.11" r="2.0" fill="#c9c6f6" stroke="#a9a5ee" stroke-width="0.6"/>
<circle cx="373.81" cy="434.38" r="2.0" fill="#c9c6f6" stroke="#a9a5ee" stroke-width="0.6"/>
<circle cx="48" cy="443.2" r="2.0" fill="#c9c6f6" stroke="#a9a5ee" stroke-width="0.6"/>
<circle cx="50.5" cy="443.4" r="2.0" fill="#c9c6f6" stroke="#a9a5ee" stroke-width="0.6"/>
<circle cx="53" cy="431.3" r="2.0" fill="#c9c6f6" stroke="#a9a5ee" stroke-width="0.6"/>
<circle cx="87.3" cy="438.8" r="2.0" fill="#c9c6f6" stroke="#a9a5ee" stroke-width="0.6"/>
<circle cx="170.7" cy="441.5" r="2.0" fill="#c9c6f6" stroke="#a9a5ee" stroke-width="0.6"/>
<circle cx="247.9" cy="441" r="2.0" fill="#c9c6f6" stroke="#a9a5ee" stroke-width="0.6"/>
<circle cx="312.5" cy="438.8" r="2.0" fill="#c9c6f6" stroke="#a9a5ee" stroke-width="0.6"/>
<rect x="46.5" y="377.8" width="363.2" height="1.8" fill="#666"/>
<rect x="46.5" y="377.8" width="1.8" height="141.6" fill="#6a6a6a"/>
<rect x="407.9" y="377.8" width="1.8" height="141.6" fill="#3e3e3e"/>
<rect x="46.5" y="517.6" width="363.2" height="1.8" fill="#3a3a3a"/>
<rect x="42.9" y="517.9" width="4" height="1.2" fill="#333"/>
<text x="42.4" y="521.4" font-size="8" font-weight="bold" text-anchor="end" fill="#1a1a1a" opacity="0.995" stroke="#1a1a1a" stroke-width="0.18" >1.5</text>
<rect x="42.9" y="494.6" width="4" height="1.2" fill="#333"/>
<text x="42.4" y="498.1" font-size="8" font-weight="bold" text-anchor="end" fill="#1a1a1a" opacity="0.995" stroke="#1a1a1a" stroke-width="0.18" >1.6</text>
<rect x="42.9" y="471.3" width="4" height="1.2" fill="#333"/>
<text x="42.4" y="474.8" font-size="8" font-weight="bold" text-anchor="end" fill="#1a1a1a" opacity="0.995" stroke="#1a1a1a" stroke-width="0.18" >1.7</text>
<rect x="42.9" y="448" width="4" height="1.2" fill="#333"/>
<text x="42.4" y="451.5" font-size="8" font-weight="bold" text-anchor="end" fill="#1a1a1a" opacity="0.995" stroke="#1a1a1a" stroke-width="0.18" >1.8</text>
<rect x="42.9" y="424.7" width="4" height="1.2" fill="#333"/>
<text x="42.4" y="428.2" font-size="8" font-weight="bold" text-anchor="end" fill="#1a1a1a" opacity="0.995" stroke="#1a1a1a" stroke-width="0.18" >1.9</text>
<rect x="42.9" y="401.4" width="4" height="1.2" fill="#333"/>
<text x="42.4" y="404.9" font-size="8" font-weight="bold" text-anchor="end" fill="#1a1a1a" opacity="0.995" stroke="#1a1a1a" stroke-width="0.18" >2.0</text>
<rect x="42.9" y="378.1" width="4" height="1.2" fill="#333"/>
<text x="42.4" y="381.6" font-size="8" font-weight="bold" text-anchor="end" fill="#1a1a1a" opacity="0.995" stroke="#1a1a1a" stroke-width="0.18" >2.1</text>
<rect x="44.8" y="506.25" width="2" height="1.2" fill="#333"/>
<rect x="44.8" y="482.95" width="2" height="1.2" fill="#333"/>
<rect x="44.8" y="459.65" width="2" height="1.2" fill="#333"/>
<rect x="44.8" y="436.35" width="2" height="1.2" fill="#333"/>
<rect x="44.8" y="413.05" width="2" height="1.2" fill="#333"/>
<rect x="44.8" y="389.75" width="2" height="1.2" fill="#333"/>
<rect x="46.8" y="519" width="1.2" height="3.2" fill="#333"/>
<text x="47.4" y="531.3" font-size="8" font-weight="bold" text-anchor="middle" fill="#1a1a1a" opacity="0.995" stroke="#1a1a1a" stroke-width="0.18" >0</text>
<rect x="83" y="519" width="1.2" height="3.2" fill="#333"/>
<text x="83.6" y="531.3" font-size="8" font-weight="bold" text-anchor="middle" fill="#1a1a1a" opacity="0.995" stroke="#1a1a1a" stroke-width="0.18" >30</text>
<rect x="119.2" y="519" width="1.2" height="3.2" fill="#333"/>
<text x="119.8" y="531.3" font-size="8" font-weight="bold" text-anchor="middle" fill="#1a1a1a" opacity="0.995" stroke="#1a1a1a" stroke-width="0.18" >60</text>
<rect x="155.4" y="519" width="1.2" height="3.2" fill="#333"/>
<text x="156" y="531.3" font-size="8" font-weight="bold" text-anchor="middle" fill="#1a1a1a" opacity="0.995" stroke="#1a1a1a" stroke-width="0.18" >90</text>
<rect x="191.6" y="519" width="1.2" height="3.2" fill="#333"/>
<text x="192.2" y="531.3" font-size="8" font-weight="bold" text-anchor="middle" fill="#1a1a1a" opacity="0.995" stroke="#1a1a1a" stroke-width="0.18" >120</text>
<rect x="227.81" y="519" width="1.2" height="3.2" fill="#333"/>
<text x="228.41" y="531.3" font-size="8" font-weight="bold" text-anchor="middle" fill="#1a1a1a" opacity="0.995" stroke="#1a1a1a" stroke-width="0.18" >150</text>
<rect x="264.01" y="519" width="1.2" height="3.2" fill="#333"/>
<text x="264.61" y="531.3" font-size="8" font-weight="bold" text-anchor="middle" fill="#1a1a1a" opacity="0.995" stroke="#1a1a1a" stroke-width="0.18" >180</text>
<rect x="300.21" y="519" width="1.2" height="3.2" fill="#333"/>
<text x="300.81" y="531.3" font-size="8" font-weight="bold" text-anchor="middle" fill="#1a1a1a" opacity="0.995" stroke="#1a1a1a" stroke-width="0.18" >210</text>
<rect x="336.41" y="519" width="1.2" height="3.2" fill="#333"/>
<text x="337.01" y="531.3" font-size="8" font-weight="bold" text-anchor="middle" fill="#1a1a1a" opacity="0.995" stroke="#1a1a1a" stroke-width="0.18" >240</text>
<rect x="372.61" y="519" width="1.2" height="3.2" fill="#333"/>
<text x="373.21" y="531.3" font-size="8" font-weight="bold" text-anchor="middle" fill="#1a1a1a" opacity="0.995" stroke="#1a1a1a" stroke-width="0.18" >270</text>
<rect x="408.81" y="519" width="1.2" height="3.2" fill="#333"/>
<text x="409.41" y="531.3" font-size="8" font-weight="bold" text-anchor="middle" fill="#1a1a1a" opacity="0.995" stroke="#1a1a1a" stroke-width="0.18" >300</text>
<rect x="64.9" y="519" width="1.2" height="1.8" fill="#333"/>
<rect x="101.1" y="519" width="1.2" height="1.8" fill="#333"/>
<rect x="137.3" y="519" width="1.2" height="1.8" fill="#333"/>
<rect x="173.5" y="519" width="1.2" height="1.8" fill="#333"/>
<rect x="209.7" y="519" width="1.2" height="1.8" fill="#333"/>
<rect x="245.91" y="519" width="1.2" height="1.8" fill="#333"/>
<rect x="282.11" y="519" width="1.2" height="1.8" fill="#333"/>
<rect x="318.31" y="519" width="1.2" height="1.8" fill="#333"/>
<rect x="354.51" y="519" width="1.2" height="1.8" fill="#333"/>
<rect x="390.71" y="519" width="1.2" height="1.8" fill="#333"/>
<text x="228.1" y="541.4" font-size="8.4" font-weight="bold" text-anchor="middle" fill="#1a1a1a" opacity="0.995" stroke="#1a1a1a" stroke-width="0.18" >Time (h)</text>
<text x="19.8" y="445.5" font-size="8.4" font-weight="bold" text-anchor="middle" fill="#1a1a1a" opacity="0.995" stroke="#1a1a1a" stroke-width="0.18" transform="rotate(-90 19.8 445.5)">Cell voltage (V)</text>
<text x="312.5" y="482" font-size="8" font-weight="bold" text-anchor="start" fill="#1a1a1a" opacity="0.995" stroke="#1a1a1a" stroke-width="0.18" >PEMWE 830 mA cm<tspan font-size="5.2" baseline-shift="3.04">-2</tspan></text>
<circle cx="312.5" cy="488.7" r="2.0" fill="#c9c6f6" stroke="#a9a5ee" stroke-width="0.6"/>
<circle cx="312.5" cy="501.3" r="2.0" fill="#efcfa2" stroke="#dfae72" stroke-width="0.6"/>
<text x="322.2" y="492.2" font-size="8" font-weight="bold" text-anchor="start" fill="#1a1a1a" opacity="0.995" stroke="#1a1a1a" stroke-width="0.18" >FOH-Nafion/Co<tspan font-size="5.6" baseline-shift="-1.92">3</tspan>O<tspan font-size="5.6" baseline-shift="-1.92">4</tspan></text>
<text x="322.2" y="504.2" font-size="8" font-weight="bold" text-anchor="start" fill="#1a1a1a" opacity="0.995" stroke="#1a1a1a" stroke-width="0.18" >Nafion/Co<tspan font-size="5.6" baseline-shift="-1.92">3</tspan>O<tspan font-size="5.6" baseline-shift="-1.92">4</tspan></text>
<rect x="489.1" y="420.3" width="2.8" height="2.8" fill="#b9b6f3"/>
<rect x="491.6" y="425.4" width="2.8" height="2.8" fill="#b9b6f3"/>
<rect x="495.3" y="427" width="2.8" height="2.8" fill="#b9b6f3"/>
<rect x="498.9" y="427.9" width="2.8" height="2.8" fill="#b9b6f3"/>
<rect x="502.3" y="428.6" width="2.8" height="2.8" fill="#b9b6f3"/>
<rect x="505.8" y="430" width="2.8" height="2.8" fill="#b9b6f3"/>
<rect x="509.1" y="431" width="2.8" height="2.8" fill="#b9b6f3"/>
<rect x="512.6" y="431.5" width="2.8" height="2.8" fill="#b9b6f3"/>
<rect x="516.4" y="433.1" width="2.8" height="2.8" fill="#b9b6f3"/>
<rect x="519.6" y="434.4" width="2.8" height="2.8" fill="#b9b6f3"/>
<rect x="523.1" y="435.4" width="2.8" height="2.8" fill="#b9b6f3"/>
<rect x="526.6" y="436.2" width="2.8" height="2.8" fill="#b9b6f3"/>
<rect x="530.1" y="436.6" width="2.8" height="2.8" fill="#b9b6f3"/>
<rect x="533.6" y="437.1" width="2.8" height="2.8" fill="#b9b6f3"/>
<rect x="537.1" y="437.6" width="2.8" height="2.8" fill="#b9b6f3"/>
<rect x="540.6" y="438.2" width="2.8" height="2.8" fill="#b9b6f3"/>
<rect x="544.1" y="438.6" width="2.8" height="2.8" fill="#b9b6f3"/>
<rect x="547.6" y="439" width="2.8" height="2.8" fill="#b9b6f3"/>
<rect x="551.1" y="439.2" width="2.8" height="2.8" fill="#b9b6f3"/>
<rect x="554.6" y="439.3" width="2.8" height="2.8" fill="#b9b6f3"/>
<rect x="558.1" y="439.4" width="2.8" height="2.8" fill="#b9b6f3"/>
<rect x="561.6" y="439.6" width="2.8" height="2.8" fill="#b9b6f3"/>
<rect x="565.1" y="439.6" width="2.8" height="2.8" fill="#b9b6f3"/>
<rect x="568.6" y="439.8" width="2.8" height="2.8" fill="#b9b6f3"/>
<rect x="572.1" y="439.3" width="2.8" height="2.8" fill="#b9b6f3"/>
<rect x="575.6" y="439.1" width="2.8" height="2.8" fill="#b9b6f3"/>
<rect x="579.1" y="438.9" width="2.8" height="2.8" fill="#b9b6f3"/>
<rect x="582.6" y="438.8" width="2.8" height="2.8" fill="#b9b6f3"/>
<rect x="586.1" y="438.4" width="2.8" height="2.8" fill="#b9b6f3"/>
<rect x="589.6" y="438" width="2.8" height="2.8" fill="#b9b6f3"/>
<rect x="593.2" y="437.6" width="2.8" height="2.8" fill="#b9b6f3"/>
<rect x="596.6" y="437.6" width="2.8" height="2.8" fill="#b9b6f3"/>
<rect x="600.1" y="437.5" width="2.8" height="2.8" fill="#b9b6f3"/>
<rect x="603.6" y="437.4" width="2.8" height="2.8" fill="#b9b6f3"/>
<rect x="607.5" y="435" width="2.8" height="2.8" fill="#b9b6f3"/>
<rect x="610.9" y="436.4" width="2.8" height="2.8" fill="#b9b6f3"/>
<rect x="614.4" y="436.8" width="2.8" height="2.8" fill="#b9b6f3"/>
<rect x="617.9" y="437.1" width="2.8" height="2.8" fill="#b9b6f3"/>
<rect x="621.2" y="434.4" width="2.8" height="2.8" fill="#b9b6f3"/>
<rect x="624.9" y="435.9" width="2.8" height="2.8" fill="#b9b6f3"/>
<rect x="628.4" y="435.7" width="2.8" height="2.8" fill="#b9b6f3"/>
<rect x="632" y="435.6" width="2.8" height="2.8" fill="#b9b6f3"/>
<rect x="635.6" y="435.6" width="2.8" height="2.8" fill="#b9b6f3"/>
<rect x="639.2" y="435.2" width="2.8" height="2.8" fill="#b9b6f3"/>
<rect x="642.8" y="434.6" width="2.8" height="2.8" fill="#b9b6f3"/>
<rect x="646.4" y="434.1" width="2.8" height="2.8" fill="#b9b6f3"/>
<rect x="649.9" y="433.8" width="2.8" height="2.8" fill="#b9b6f3"/>
<rect x="653.5" y="433.4" width="2.8" height="2.8" fill="#b9b6f3"/>
<rect x="657.1" y="432.9" width="2.8" height="2.8" fill="#b9b6f3"/>
<rect x="489" y="375" width="188.6" height="1.8" fill="#666"/>
<rect x="489" y="375" width="1.8" height="141.4" fill="#6a6a6a"/>
<rect x="675.8" y="375" width="1.8" height="141.4" fill="#3e3e3e"/>
<rect x="489" y="514.6" width="188.6" height="1.8" fill="#3a3a3a"/>
<rect x="485.4" y="514.9" width="4" height="1.2" fill="#333"/>
<text x="484.9" y="518.4" font-size="8" font-weight="bold" text-anchor="end" fill="#1a1a1a" opacity="0.995" stroke="#1a1a1a" stroke-width="0.18" >1.5</text>
<rect x="485.4" y="491.63" width="4" height="1.2" fill="#333"/>
<text x="484.9" y="495.13" font-size="8" font-weight="bold" text-anchor="end" fill="#1a1a1a" opacity="0.995" stroke="#1a1a1a" stroke-width="0.18" >1.6</text>
<rect x="485.4" y="468.36" width="4" height="1.2" fill="#333"/>
<text x="484.9" y="471.86" font-size="8" font-weight="bold" text-anchor="end" fill="#1a1a1a" opacity="0.995" stroke="#1a1a1a" stroke-width="0.18" >1.7</text>
<rect x="485.4" y="445.09" width="4" height="1.2" fill="#333"/>
<text x="484.9" y="448.59" font-size="8" font-weight="bold" text-anchor="end" fill="#1a1a1a" opacity="0.995" stroke="#1a1a1a" stroke-width="0.18" >1.8</text>
<rect x="485.4" y="421.82" width="4" height="1.2" fill="#333"/>
<text x="484.9" y="425.32" font-size="8" font-weight="bold" text-anchor="end" fill="#1a1a1a" opacity="0.995" stroke="#1a1a1a" stroke-width="0.18" >1.9</text>
<rect x="485.4" y="398.55" width="4" height="1.2" fill="#333"/>
<text x="484.9" y="402.05" font-size="8" font-weight="bold" text-anchor="end" fill="#1a1a1a" opacity="0.995" stroke="#1a1a1a" stroke-width="0.18" >2.0</text>
<rect x="485.4" y="375.28" width="4" height="1.2" fill="#333"/>
<text x="484.9" y="378.78" font-size="8" font-weight="bold" text-anchor="end" fill="#1a1a1a" opacity="0.995" stroke="#1a1a1a" stroke-width="0.18" >2.1</text>
<rect x="487.3" y="503.26" width="2" height="1.2" fill="#333"/>
<rect x="487.3" y="480" width="2" height="1.2" fill="#333"/>
<rect x="487.3" y="456.72" width="2" height="1.2" fill="#333"/>
<rect x="487.3" y="433.45" width="2" height="1.2" fill="#333"/>
<rect x="487.3" y="410.19" width="2" height="1.2" fill="#333"/>
<rect x="487.3" y="386.92" width="2" height="1.2" fill="#333"/>
<rect x="489.3" y="516" width="1.2" height="3.2" fill="#333"/>
<text x="489.9" y="527.2" font-size="8" font-weight="bold" text-anchor="middle" fill="#1a1a1a" opacity="0.995" stroke="#1a1a1a" stroke-width="0.18" >0</text>
<rect x="536" y="516" width="1.2" height="3.2" fill="#333"/>
<text x="536.6" y="527.2" font-size="8" font-weight="bold" text-anchor="middle" fill="#1a1a1a" opacity="0.995" stroke="#1a1a1a" stroke-width="0.18" >10</text>
<rect x="582.7" y="516" width="1.2" height="3.2" fill="#333"/>
<text x="583.3" y="527.2" font-size="8" font-weight="bold" text-anchor="middle" fill="#1a1a1a" opacity="0.995" stroke="#1a1a1a" stroke-width="0.18" >20</text>
<rect x="629.4" y="516" width="1.2" height="3.2" fill="#333"/>
<text x="630" y="527.2" font-size="8" font-weight="bold" text-anchor="middle" fill="#1a1a1a" opacity="0.995" stroke="#1a1a1a" stroke-width="0.18" >30</text>
<rect x="676.1" y="516" width="1.2" height="3.2" fill="#333"/>
<text x="676.7" y="527.2" font-size="8" font-weight="bold" text-anchor="middle" fill="#1a1a1a" opacity="0.995" stroke="#1a1a1a" stroke-width="0.18" >40</text>
<rect x="512.65" y="516" width="1.2" height="1.8" fill="#333"/>
<rect x="559.35" y="516" width="1.2" height="1.8" fill="#333"/>
<rect x="606.05" y="516" width="1.2" height="1.8" fill="#333"/>
<rect x="652.75" y="516" width="1.2" height="1.8" fill="#333"/>
<text x="584.2" y="538.4" font-size="8.4" font-weight="bold" text-anchor="middle" fill="#1a1a1a" opacity="0.995" stroke="#1a1a1a" stroke-width="0.18" >Time (h)</text>
<text x="468.6" y="445.8" font-size="8.4" font-weight="bold" text-anchor="middle" fill="#1a1a1a" opacity="0.995" stroke="#1a1a1a" stroke-width="0.18" transform="rotate(-90 468.6 445.8)">Cell voltage (V)</text>
<text x="586.9" y="390" font-size="8.2" font-weight="bold" text-anchor="start" fill="#1a1a1a" opacity="0.995" stroke="#1a1a1a" stroke-width="0.18" >PEMWE 1 A cm<tspan font-size="5.33" baseline-shift="3.12">-2</tspan></text>
<rect x="584.2" y="396.5" width="3.2" height="3.2" fill="#c5c2f6"/>
<text x="597.6" y="400.8" font-size="8.2" font-weight="bold" text-anchor="start" fill="#1a1a1a" opacity="0.995" stroke="#1a1a1a" stroke-width="0.18" >FOH-Nafion/Co<tspan font-size="5.74" baseline-shift="-1.97">3</tspan>O<tspan font-size="5.74" baseline-shift="-1.97">4</tspan></text>
</svg>
</body></html>
